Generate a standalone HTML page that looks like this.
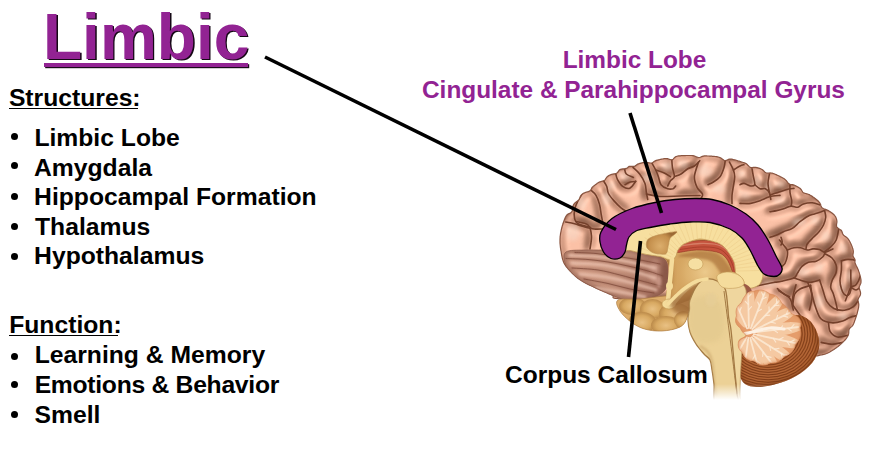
<!DOCTYPE html>
<html><head><meta charset="utf-8">
<style>
html,body{margin:0;padding:0;background:#fff;}
body{width:879px;height:449px;position:relative;overflow:hidden;font-family:"Liberation Sans",sans-serif;font-weight:bold;}
.t{position:absolute;white-space:nowrap;line-height:1;}
.l{font-size:24.7px;color:#000;}
.b{position:absolute;width:7px;height:7px;border-radius:50%;background:#000;}
.p{color:#922393;font-size:24.4px;}
#title{font-size:64px;color:#922393;text-shadow:1.4px 1.4px 0.3px #150815;}
#uline{position:absolute;left:43.5px;top:63.4px;width:204px;height:3.2px;background:#922393;box-shadow:1.2px 1.2px 0 #1a0a1a;}
.ul{position:absolute;height:2px;background:#000;}
</style></head><body>
<svg width="879" height="449" viewBox="0 0 879 449" style="position:absolute;left:0;top:0">
<defs>
<filter id="blur2" x="-20%" y="-20%" width="140%" height="140%"><feGaussianBlur stdDeviation="2"/></filter>
<filter id="blur1" x="-20%" y="-20%" width="140%" height="140%"><feGaussianBlur stdDeviation="1.2"/></filter>
<filter id="blur3" x="-30%" y="-30%" width="160%" height="160%"><feGaussianBlur stdDeviation="3"/></filter>
<filter id="blur06" x="-20%" y="-20%" width="140%" height="140%"><feGaussianBlur stdDeviation="0.6"/></filter>
<filter id="blur4" x="-30%" y="-30%" width="160%" height="160%"><feGaussianBlur stdDeviation="4"/></filter>
<linearGradient id="fade" x1="0" y1="0" x2="0" y2="1"><stop offset="0" stop-color="#fff" stop-opacity="0"/><stop offset="1" stop-color="#fff" stop-opacity="1"/></linearGradient>
<clipPath id="cpCortex"><path d="M622.0,299.0 L618.3,298.7 L615.7,298.4 L614.1,298.1 L613.3,297.7 L613.0,297.3 L613.0,296.9 L613.2,296.4 L613.2,296.0 L612.9,295.5 L612.0,295.0 L611.2,294.7 L610.3,294.3 L609.5,294.0 L608.6,293.6 L607.7,293.2 L606.8,292.8 L605.8,292.4 L604.9,292.0 L603.9,291.6 L603.0,291.2 L602.0,290.8 L601.0,290.4 L600.0,289.9 L599.0,289.5 L598.0,289.0 L597.1,288.6 L596.2,288.2 L595.2,287.7 L594.2,287.3 L593.3,286.8 L592.3,286.3 L591.3,285.8 L590.3,285.4 L589.3,284.9 L588.3,284.4 L587.3,283.9 L586.3,283.4 L585.4,282.9 L584.5,282.4 L583.6,282.0 L582.8,281.5 L582.0,281.0 L581.0,280.3 L580.0,279.7 L579.0,279.0 L578.1,278.4 L577.3,277.8 L576.5,277.1 L575.7,276.5 L575.0,275.8 L574.2,275.1 L573.5,274.4 L572.7,273.7 L572.0,273.0 L571.2,272.2 L570.5,271.5 L569.7,270.7 L569.0,269.9 L568.3,269.1 L567.6,268.2 L566.9,267.4 L566.2,266.6 L565.6,265.7 L565.0,264.8 L564.5,263.9 L564.0,263.0 L563.6,262.1 L563.2,261.1 L562.9,260.1 L562.6,259.1 L562.3,258.1 L562.1,257.1 L561.9,256.1 L561.7,255.1 L561.5,254.0 L561.3,253.0 L561.2,252.0 L561.0,251.0 L560.8,250.0 L560.7,249.0 L560.5,248.0 L560.4,247.0 L560.3,246.0 L560.2,245.0 L560.1,244.0 L560.0,243.0 L560.0,242.0 L560.0,241.0 L560.0,240.0 L560.0,239.0 L560.1,238.0 L560.1,237.0 L560.2,236.0 L560.4,235.0 L560.5,233.9 L560.7,232.9 L560.9,231.9 L561.1,230.9 L561.3,229.9 L561.5,228.9 L561.8,228.0 L562.0,227.0 L562.3,225.9 L562.6,224.9 L562.9,223.8 L563.3,222.7 L563.7,221.6 L564.1,220.5 L564.5,219.5 L564.9,218.5 L565.3,217.6 L565.7,216.8 L566.1,216.0 L566.9,215.0 L567.7,214.3 L568.6,213.8 L569.6,213.4 L570.8,212.7 L571.9,211.7 L572.2,210.9 L572.4,210.0 L572.5,209.0 L572.5,207.9 L572.7,206.8 L573.1,205.7 L573.6,204.6 L574.3,203.7 L575.2,202.8 L576.2,202.0 L577.2,201.2 L578.1,200.5 L578.8,199.8 L579.4,198.8 L579.8,197.8 L580.2,196.7 L580.7,195.8 L581.4,194.9 L582.2,194.2 L583.0,193.6 L583.9,193.1 L584.8,192.7 L585.7,192.4 L587.5,191.8 L588.4,191.6 L589.7,191.0 L590.3,190.5 L590.8,189.8 L591.3,189.0 L591.7,188.1 L592.4,187.2 L593.2,186.4 L594.1,185.7 L595.0,185.0 L595.7,184.4 L596.5,183.9 L597.2,183.3 L598.1,182.8 L598.9,182.3 L599.9,181.9 L601.1,181.5 L602.3,181.1 L603.5,180.7 L604.6,180.2 L605.2,179.6 L605.7,178.8 L606.2,178.0 L606.8,177.2 L607.6,176.4 L608.4,175.8 L609.4,175.2 L610.5,174.7 L611.7,174.3 L612.9,174.0 L614.2,173.8 L615.4,173.6 L616.4,173.3 L617.3,172.7 L618.0,172.0 L618.5,171.2 L619.1,170.4 L619.7,169.7 L620.5,169.3 L621.6,169.1 L622.7,168.9 L624.0,168.8 L625.2,168.7 L626.4,168.4 L627.1,168.0 L627.8,167.5 L628.4,166.9 L629.1,166.3 L630.2,166.3 L631.5,166.4 L632.7,166.4 L633.9,166.4 L634.9,166.1 L635.7,165.6 L636.4,165.0 L637.2,164.4 L638.1,163.9 L639.1,163.6 L640.0,163.3 L641.0,163.1 L642.0,162.9 L643.0,162.7 L644.1,162.6 L645.2,162.5 L646.4,162.5 L647.7,162.6 L649.0,162.8 L650.3,163.0 L651.4,163.0 L652.4,162.7 L653.1,162.3 L653.8,161.7 L654.5,161.3 L655.2,160.9 L656.3,160.4 L657.5,160.1 L658.6,159.8 L659.6,159.6 L660.6,159.3 L661.6,159.1 L662.5,159.0 L663.4,158.8 L664.2,158.7 L665.0,158.6 L666.3,158.5 L667.5,158.7 L668.6,159.0 L669.6,159.3 L670.7,159.6 L671.8,159.8 L672.6,159.6 L673.2,159.1 L673.8,158.4 L674.5,157.7 L675.5,156.8 L677.1,156.2 L677.7,156.0 L678.5,155.9 L679.3,155.8 L680.2,155.8 L681.1,155.7 L682.0,155.7 L683.0,155.6 L684.1,155.6 L685.1,155.6 L686.2,155.5 L687.3,155.5 L688.4,155.5 L689.5,155.5 L690.6,155.5 L691.8,155.5 L692.9,155.7 L694.0,155.9 L695.1,156.3 L696.2,156.7 L697.2,157.2 L698.3,157.5 L699.3,157.5 L700.3,157.2 L701.3,156.8 L702.3,156.4 L703.4,156.1 L704.4,155.9 L705.5,155.9 L706.6,155.9 L707.6,156.0 L708.7,156.0 L709.7,156.1 L710.7,156.1 L711.6,156.2 L712.5,156.3 L713.4,156.4 L714.2,156.4 L715.0,156.5 L716.4,156.7 L717.7,156.9 L718.9,157.2 L719.9,157.6 L720.8,158.1 L721.7,158.6 L722.5,159.3 L723.3,159.8 L724.0,160.3 L724.8,160.5 L725.9,160.4 L726.8,160.1 L727.6,159.8 L728.5,159.4 L729.5,159.1 L731.0,159.1 L731.8,159.2 L732.6,159.4 L733.6,159.7 L734.6,159.9 L735.7,160.2 L736.9,160.5 L738.0,160.9 L739.1,161.2 L740.3,161.5 L741.3,161.9 L742.4,162.2 L743.3,162.5 L744.2,162.8 L745.0,163.1 L746.4,163.8 L747.4,164.6 L748.1,165.5 L748.8,166.2 L749.5,166.9 L750.3,167.4 L751.3,167.6 L752.3,167.5 L753.3,167.4 L754.5,167.3 L755.6,167.4 L757.0,167.6 L757.8,167.8 L758.7,168.1 L759.6,168.4 L760.6,168.8 L761.5,169.2 L762.5,169.8 L763.3,170.5 L764.2,171.4 L765.0,172.2 L766.0,172.7 L766.9,173.0 L767.9,173.0 L769.0,173.0 L770.1,172.9 L771.2,173.0 L772.2,173.2 L773.2,173.5 L774.1,173.8 L775.1,174.2 L776.1,174.6 L777.0,175.1 L778.0,175.5 L779.0,176.0 L779.8,176.4 L780.7,176.9 L781.5,177.3 L782.4,177.8 L783.3,178.3 L784.2,178.8 L785.0,179.4 L785.8,180.1 L786.5,180.8 L787.1,181.7 L787.7,182.5 L788.3,183.3 L789.1,183.9 L790.1,184.3 L791.2,184.5 L792.3,184.7 L793.5,184.9 L794.6,185.3 L795.6,185.7 L796.5,186.2 L797.4,186.7 L798.3,187.2 L799.1,187.8 L799.9,188.3 L800.6,189.0 L801.2,189.7 L801.7,190.5 L802.2,191.3 L802.7,192.1 L803.4,192.7 L804.4,193.2 L805.6,193.5 L806.9,193.8 L808.1,194.2 L809.3,194.6 L810.3,195.2 L811.2,195.7 L812.1,196.3 L813.0,197.0 L813.9,197.6 L814.7,198.2 L815.5,198.8 L816.3,199.4 L817.0,200.0 L817.9,200.8 L818.6,201.5 L819.3,202.3 L819.9,203.1 L820.3,203.9 L820.7,204.8 L820.9,205.7 L821.2,206.6 L821.7,207.4 L822.5,208.1 L823.6,208.7 L824.8,209.1 L826.1,209.6 L827.2,210.1 L828.3,210.6 L829.3,211.2 L830.2,211.8 L831.2,212.5 L832.0,213.1 L832.9,213.8 L833.7,214.5 L834.4,215.2 L835.0,216.0 L835.6,216.9 L836.1,217.9 L836.4,218.9 L836.7,220.0 L836.9,221.1 L836.9,222.3 L836.7,223.5 L836.5,224.6 L836.5,225.7 L836.7,226.7 L837.2,227.5 L838.2,228.3 L839.2,229.0 L840.3,229.7 L841.2,230.3 L841.7,231.0 L842.0,231.8 L842.3,232.6 L842.5,233.5 L843.0,234.4 L843.7,235.2 L844.6,235.9 L845.7,236.7 L846.7,237.4 L847.6,238.3 L848.3,239.2 L848.9,240.1 L849.5,241.0 L850.0,242.0 L850.5,243.0 L851.0,244.0 L851.4,244.9 L851.8,245.9 L852.2,246.9 L852.5,247.9 L852.9,249.0 L853.1,250.0 L853.3,251.1 L853.3,252.1 L853.2,253.2 L853.0,254.2 L852.9,255.2 L853.0,256.1 L853.4,257.1 L854.1,258.1 L854.7,259.0 L855.1,260.0 L855.0,260.9 L854.9,261.8 L855.0,262.8 L855.3,263.8 L855.8,264.8 L856.4,266.0 L856.9,266.9 L857.3,267.8 L857.7,268.7 L858.1,269.6 L858.5,270.6 L858.8,271.6 L859.2,272.6 L859.5,273.7 L859.8,274.7 L860.1,275.7 L860.4,276.8 L860.6,277.9 L860.8,278.9 L861.0,280.0 L861.0,280.9 L861.0,281.9 L860.9,282.9 L860.6,283.8 L860.1,284.7 L859.7,285.7 L859.3,286.6 L859.2,287.7 L859.4,288.7 L859.7,289.8 L860.1,290.9 L860.4,292.0 L860.6,293.0 L860.5,294.1 L860.3,295.0 L859.9,295.9 L859.4,296.8 L858.8,297.8 L858.3,298.7 L858.0,299.8 L858.1,300.9 L858.3,302.0 L858.6,303.1 L858.8,304.3 L858.8,305.3 L858.7,306.3 L858.6,307.3 L858.4,308.2 L858.2,309.1 L858.0,310.0 L857.7,311.2 L857.4,312.3 L857.2,313.3 L856.9,314.3 L856.6,315.2 L856.3,316.2 L856.0,317.1 L855.7,318.1 L855.3,319.0 L855.0,320.0 L854.6,321.0 L854.3,322.0 L853.9,323.0 L853.5,324.0 L853.0,324.9 L852.4,325.8 L851.6,326.6 L850.7,327.4 L849.8,328.2 L849.2,329.1 L848.9,330.1 L848.8,331.1 L848.8,332.3 L848.7,333.4 L848.5,334.4 L848.1,335.4 L847.7,336.3 L847.1,337.3 L846.5,338.2 L845.8,339.1 L845.0,340.0 L844.4,340.7 L843.7,341.4 L843.0,342.1 L842.2,342.8 L841.4,343.5 L840.6,344.2 L839.8,345.0 L838.9,345.7 L838.1,346.4 L837.2,347.0 L836.4,347.7 L835.5,348.3 L834.6,348.9 L833.8,349.5 L833.0,350.0 L832.1,350.6 L831.1,351.1 L830.2,351.7 L829.3,352.2 L828.3,352.7 L827.4,353.1 L826.5,353.5 L825.5,353.9 L824.6,354.2 L823.7,354.5 L822.8,354.7 L821.9,354.9 L821.0,355.0 L820.0,355.1 L819.1,355.4 L818.2,355.6 L817.3,355.8 L816.4,355.9 L815.6,355.9 L814.6,355.7 L813.6,355.3 L812.5,354.5 L811.3,353.5 L810.0,352.0 L809.6,351.5 L809.2,351.0 L808.8,350.4 L808.4,349.7 L808.0,349.0 L807.6,348.3 L807.2,347.6 L806.8,346.8 L806.4,345.9 L806.0,345.1 L805.6,344.2 L805.2,343.3 L804.7,342.4 L804.3,341.4 L803.9,340.5 L803.4,339.5 L803.0,338.5 L802.5,337.5 L802.1,336.4 L801.6,335.4 L801.1,334.4 L800.6,333.4 L800.1,332.3 L799.6,331.3 L799.0,330.3 L798.5,329.3 L797.9,328.3 L797.4,327.3 L796.8,326.3 L796.2,325.4 L795.5,324.5 L794.9,323.5 L794.3,322.7 L793.6,321.8 L792.9,321.0 L792.2,320.2 L791.5,319.4 L790.8,318.7 L790.0,318.0 L789.3,317.4 L788.6,316.8 L787.8,316.2 L787.1,315.6 L786.3,315.1 L785.5,314.5 L784.7,314.0 L783.9,313.4 L783.1,312.9 L782.3,312.3 L781.4,311.8 L780.6,311.3 L779.7,310.8 L778.8,310.3 L777.9,309.8 L777.0,309.3 L776.1,308.9 L775.2,308.4 L774.2,308.0 L773.3,307.5 L772.4,307.1 L771.4,306.7 L770.4,306.2 L769.5,305.8 L768.5,305.4 L767.5,305.1 L766.5,304.7 L765.5,304.3 L764.5,304.0 L763.5,303.6 L762.4,303.3 L761.4,302.9 L760.4,302.6 L759.4,302.3 L758.3,302.0 L757.3,301.7 L756.3,301.4 L755.2,301.2 L754.2,300.9 L753.1,300.7 L752.1,300.4 L751.0,300.2 L750.0,300.0 L749.1,299.8 L748.2,299.7 L747.3,299.5 L746.4,299.4 L745.5,299.3 L744.6,299.2 L743.8,299.1 L742.9,299.0 L742.0,298.9 L741.1,298.9 L740.2,298.8 L739.3,298.8 L738.4,298.7 L737.5,298.7 L736.6,298.7 L735.7,298.7 L734.8,298.7 L733.9,298.7 L733.0,298.7 L732.1,298.8 L731.1,298.8 L730.2,298.8 L729.3,298.8 L728.3,298.9 L727.4,298.9 L726.4,299.0 L725.4,299.0 L724.5,299.1 L723.5,299.1 L722.5,299.2 L721.5,299.3 L720.5,299.3 L719.5,299.4 L718.4,299.4 L717.4,299.5 L716.3,299.6 L715.2,299.6 L714.2,299.7 L713.1,299.7 L712.0,299.8 L710.8,299.8 L709.7,299.9 L708.5,299.9 L707.4,299.9 L706.2,300.0 L705.0,300.0 L703.8,300.0 L702.5,300.0 L701.3,300.0 L700.0,300.0 L699.2,300.0 L698.3,300.0 L697.4,300.0 L696.6,300.0 L695.7,300.0 L694.7,300.0 L693.8,300.0 L692.8,300.0 L691.9,299.9 L690.9,299.9 L689.9,299.9 L688.9,299.9 L687.8,299.9 L686.8,299.9 L685.7,299.9 L684.7,299.9 L683.6,299.9 L682.5,299.9 L681.4,299.9 L680.3,299.9 L679.2,299.9 L678.1,299.9 L677.0,299.9 L675.8,299.9 L674.7,299.9 L673.6,299.9 L672.4,299.8 L671.3,299.8 L670.1,299.8 L668.9,299.8 L667.8,299.8 L666.6,299.8 L665.5,299.8 L664.3,299.8 L663.1,299.8 L662.0,299.8 L660.8,299.8 L659.7,299.8 L658.5,299.8 L657.3,299.7 L656.2,299.7 L655.1,299.7 L653.9,299.7 L652.8,299.7 L651.7,299.7 L650.5,299.7 L649.4,299.7 L648.3,299.6 L647.2,299.6 L646.1,299.6 L645.1,299.6 L644.0,299.6 L642.9,299.6 L641.9,299.6 L640.9,299.5 L639.9,299.5 L638.9,299.5 L637.9,299.5 L636.9,299.5 L635.9,299.5 L635.0,299.4 L634.1,299.4 L633.2,299.4 L632.3,299.4 L631.4,299.4 L630.5,299.3 L629.7,299.3 L628.9,299.3 L628.1,299.3 L627.3,299.2 L626.6,299.2 L625.8,299.2 L625.1,299.2 L624.5,299.1 L623.8,299.1 L623.2,299.1 L622.6,299.0 Z"/></clipPath>
</defs>
<filter id="light" x="540" y="140" width="340" height="230" filterUnits="userSpaceOnUse" color-interpolation-filters="sRGB">
 <feGaussianBlur in="SourceGraphic" stdDeviation="3.0" result="b"/>
 <feColorMatrix in="b" type="matrix" values="0 0 0 0 0  0 0 0 0 0  0 0 0 0 0  1 0 0 0 0" result="h"/>
 <feGaussianBlur in="SourceGraphic" stdDeviation="2.0" result="b2"/>
 <feColorMatrix in="b2" type="matrix" values="0.225 0 0 0 0.775  0.300 0 0 0 0.700  0.336 0 0 0 0.664  0 0 0 0 1" result="ao"/>
 <feDiffuseLighting in="h" surfaceScale="3.4" diffuseConstant="1.155" lighting-color="#ffffff" result="d"><feDistantLight azimuth="235" elevation="60"/></feDiffuseLighting>
 <feSpecularLighting in="h" surfaceScale="3.4" specularConstant="0.35" specularExponent="10" lighting-color="#fff" result="sp"><feDistantLight azimuth="235" elevation="60"/></feSpecularLighting>
 <feComponentTransfer in="d" result="d2"><feFuncR type="linear" slope="0.55" intercept="0.44999999999999996"/><feFuncG type="linear" slope="0.605" intercept="0.395"/><feFuncB type="linear" slope="0.660" intercept="0.340"/></feComponentTransfer>
 <feFlood flood-color="#d89e83" result="base"/>
 <feBlend in="d2" in2="base" mode="multiply" result="m"/>
 <feBlend in="ao" in2="m" mode="multiply" result="m2"/>
 <feComposite in="sp" in2="m2" operator="arithmetic" k1="0" k2="0.55" k3="1" k4="0"/>
</filter>
<g clip-path="url(#cpCortex)">
<g filter="url(#light)"><rect x="540" y="140" width="340" height="230" fill="#fff"/>
<path d="M565.7,222.0 C567.2,222.3 571.6,223.1 574.6,223.8 C577.6,224.6 580.2,225.6 583.5,226.5 C586.8,227.4 591.1,228.6 594.2,229.0 C597.3,229.4 600.9,229.0 602.2,229.0" fill="none" stroke="#000" stroke-width="4.5" stroke-linecap="round" stroke-linejoin="round"/>
<path d="M581.7,194.4 C581.1,195.4 579.2,198.1 578.0,200.6 C576.8,203.1 575.2,206.5 574.6,209.5 C574.0,212.5 574.0,216.1 574.6,218.5 C575.2,220.9 575.3,222.3 578.0,223.8 C580.7,225.3 588.5,226.8 590.6,227.4" fill="none" stroke="#000" stroke-width="4.5" stroke-linecap="round" stroke-linejoin="round"/>
<path d="M590.6,190.0 C591.5,190.9 594.5,192.9 596.0,195.3 C597.5,197.7 598.6,200.9 599.5,204.2 C600.4,207.5 600.7,211.6 601.3,214.9 C601.9,218.2 602.7,222.3 603.0,223.8" fill="none" stroke="#000" stroke-width="4.5" stroke-linecap="round" stroke-linejoin="round"/>
<path d="M603.0,180.0 C603.6,181.1 605.8,184.2 606.7,186.4 C607.6,188.7 607.3,191.1 608.5,193.5 C609.7,195.9 611.7,198.2 613.8,200.6 C615.9,203.0 618.9,206.0 621.0,207.8 C623.1,209.6 625.4,210.7 626.3,211.3" fill="none" stroke="#000" stroke-width="4.5" stroke-linecap="round" stroke-linejoin="round"/>
<path d="M615.6,173.0 C615.9,174.1 616.2,177.1 617.4,179.3 C618.6,181.5 620.6,184.9 622.7,186.4 C624.8,187.9 627.6,189.0 629.8,188.2 C632.0,187.4 634.7,182.5 635.7,181.4" fill="none" stroke="#000" stroke-width="4.5" stroke-linecap="round" stroke-linejoin="round"/>
<path d="M624.5,168.6 C624.8,169.5 624.8,172.5 626.3,174.0 C627.8,175.5 632.2,176.9 633.4,177.5" fill="none" stroke="#000" stroke-width="4.5" stroke-linecap="round" stroke-linejoin="round"/>
<path d="M576.0,221.5 C578.0,222.1 585.4,222.6 588.0,225.0 C590.6,227.4 591.2,232.0 591.5,236.0 C591.8,240.0 590.2,246.8 590.0,249.0" fill="none" stroke="#000" stroke-width="4.5" stroke-linecap="round" stroke-linejoin="round"/>
<path d="M633.0,167.4 C634.1,168.5 637.7,171.3 639.7,174.0 C641.7,176.7 643.9,180.3 645.0,183.4 C646.1,186.5 645.9,190.0 646.4,192.7 C646.9,195.4 647.5,198.3 647.7,199.4" fill="none" stroke="#000" stroke-width="4.5" stroke-linecap="round" stroke-linejoin="round"/>
<path d="M625.0,184.7 C625.9,184.2 628.5,182.6 630.3,182.0 C632.1,181.4 634.8,181.5 635.7,181.4" fill="none" stroke="#000" stroke-width="4.5" stroke-linecap="round" stroke-linejoin="round"/>
<path d="M650.4,160.7 C651.3,162.2 654.4,167.3 655.7,170.0 C657.0,172.7 657.5,174.2 658.4,176.7 C659.3,179.1 659.5,182.7 661.0,184.7 C662.5,186.7 665.7,188.0 667.7,188.7 C669.7,189.4 671.7,189.1 673.0,188.7 C674.3,188.2 675.2,186.4 675.7,186.0" fill="none" stroke="#000" stroke-width="4.5" stroke-linecap="round" stroke-linejoin="round"/>
<path d="M671.7,158.0 C671.8,159.6 672.0,164.3 672.4,167.4 C672.8,170.5 674.7,174.5 674.4,176.7 C674.1,178.9 671.5,179.1 670.4,180.7 C669.3,182.2 668.2,185.1 667.7,186.0" fill="none" stroke="#000" stroke-width="4.5" stroke-linecap="round" stroke-linejoin="round"/>
<path d="M674.4,176.7 C675.5,176.2 678.8,175.3 681.0,174.0 C683.2,172.7 685.6,170.0 687.8,168.7 C690.0,167.4 692.4,167.3 694.4,166.0 C696.4,164.7 698.9,161.6 699.8,160.7" fill="none" stroke="#000" stroke-width="4.5" stroke-linecap="round" stroke-linejoin="round"/>
<path d="M655.7,170.0 C657.0,170.4 661.2,171.6 663.7,172.7 C666.2,173.8 669.3,176.0 670.4,176.7" fill="none" stroke="#000" stroke-width="4.5" stroke-linecap="round" stroke-linejoin="round"/>
<path d="M698.5,162.0 C697.8,164.4 694.6,172.5 694.4,176.7 C694.2,180.9 695.8,184.5 697.1,187.4 C698.5,190.3 701.8,192.2 702.5,194.0 C703.2,195.8 701.5,197.3 701.3,198.0" fill="none" stroke="#000" stroke-width="4.5" stroke-linecap="round" stroke-linejoin="round"/>
<path d="M646.4,194.0 C648.7,194.4 654.4,196.2 660.0,196.5 C665.6,196.8 673.3,196.2 680.0,196.0 C686.7,195.8 696.7,195.6 700.0,195.5" fill="none" stroke="#000" stroke-width="4.5" stroke-linecap="round" stroke-linejoin="round"/>
<path d="M725.4,159.3 C725.2,160.7 724.9,164.5 724.0,167.4 C723.1,170.3 721.8,174.3 720.0,176.7 C718.2,179.1 715.4,180.7 713.4,182.0 C711.4,183.3 708.9,184.2 708.0,184.7" fill="none" stroke="#000" stroke-width="4.5" stroke-linecap="round" stroke-linejoin="round"/>
<path d="M729.4,162.0 C730.1,163.3 732.5,167.6 733.4,170.0 C734.3,172.4 734.7,174.0 734.7,176.7 C734.7,179.4 733.9,182.9 733.4,186.0 C732.9,189.1 732.2,192.5 732.0,195.4 C731.8,198.3 732.0,202.1 732.0,203.4" fill="none" stroke="#000" stroke-width="4.5" stroke-linecap="round" stroke-linejoin="round"/>
<path d="M733.4,170.0 C734.5,169.3 738.2,166.9 740.0,166.0 C741.8,165.1 743.3,164.9 744.0,164.7" fill="none" stroke="#000" stroke-width="4.5" stroke-linecap="round" stroke-linejoin="round"/>
<path d="M752.0,168.7 C752.2,170.0 752.9,174.0 753.4,176.7 C753.9,179.4 755.2,183.1 754.7,184.7 C754.2,186.2 752.5,186.2 750.7,186.0 C748.9,185.8 745.8,183.6 744.0,183.4 C742.2,183.2 740.7,184.5 740.0,184.7" fill="none" stroke="#000" stroke-width="4.5" stroke-linecap="round" stroke-linejoin="round"/>
<path d="M754.7,184.7 C755.6,185.4 758.2,188.0 760.0,188.7 C761.8,189.4 763.8,188.0 765.4,188.7 C767.0,189.4 768.5,190.9 769.4,192.7 C770.3,194.5 770.6,198.3 770.8,199.4" fill="none" stroke="#000" stroke-width="4.5" stroke-linecap="round" stroke-linejoin="round"/>
<path d="M769.4,174.0 C769.2,175.6 768.0,180.3 768.0,183.4 C768.0,186.5 769.2,191.1 769.4,192.7" fill="none" stroke="#000" stroke-width="4.5" stroke-linecap="round" stroke-linejoin="round"/>
<path d="M740.0,203.4 C741.8,203.4 747.4,203.9 750.7,203.4 C754.0,202.9 756.9,201.8 760.0,200.7 C763.1,199.6 766.1,197.6 769.4,196.7 C772.7,195.8 778.2,195.6 780.0,195.4" fill="none" stroke="#000" stroke-width="4.5" stroke-linecap="round" stroke-linejoin="round"/>
<path d="M770.0,195.0 C771.3,194.6 775.3,193.3 778.0,192.4 C780.7,191.5 783.3,190.4 786.0,189.7 C788.7,189.0 792.7,188.6 794.0,188.4" fill="none" stroke="#000" stroke-width="4.5" stroke-linecap="round" stroke-linejoin="round"/>
<path d="M790.0,183.0 C790.0,184.6 789.7,189.5 790.0,192.4 C790.3,195.3 791.5,198.3 791.7,200.6 C791.9,202.9 791.3,205.2 791.2,206.1" fill="none" stroke="#000" stroke-width="4.5" stroke-linecap="round" stroke-linejoin="round"/>
<path d="M770.0,211.7 C771.1,211.5 774.3,211.1 776.7,210.6 C779.1,210.1 782.1,209.2 784.5,208.4 C786.9,207.7 789.0,206.3 791.2,206.1 C793.4,205.9 795.8,207.6 797.8,207.2 C799.8,206.8 801.0,204.6 803.4,203.9 C805.8,203.2 809.5,202.6 812.3,202.8 C815.1,203.0 818.7,204.6 820.0,205.0" fill="none" stroke="#000" stroke-width="4.5" stroke-linecap="round" stroke-linejoin="round"/>
<path d="M770.0,237.3 C771.1,236.9 774.5,236.0 776.7,235.1 C778.9,234.2 780.8,232.8 783.4,231.7 C786.0,230.6 789.5,230.1 792.3,228.4 C795.1,226.7 797.4,223.7 800.0,221.7 C802.6,219.7 805.5,217.5 807.9,216.2 C810.3,214.9 812.3,214.7 814.5,213.9 C816.7,213.2 819.5,212.2 821.2,211.7 C822.9,211.1 824.0,210.8 824.6,210.6" fill="none" stroke="#000" stroke-width="4.5" stroke-linecap="round" stroke-linejoin="round"/>
<path d="M824.6,210.6 C824.8,211.7 825.9,214.9 825.7,217.3 C825.5,219.7 824.6,222.6 823.5,225.0 C822.4,227.4 820.7,229.6 819.0,231.7 C817.3,233.8 815.1,235.6 813.4,237.3 C811.7,239.0 810.1,240.5 809.0,241.8 C807.9,243.1 807.2,243.8 806.7,245.0 C806.2,246.2 806.1,248.3 806.0,249.0" fill="none" stroke="#000" stroke-width="4.5" stroke-linecap="round" stroke-linejoin="round"/>
<path d="M781.0,237.3 C781.2,238.1 782.2,240.5 782.2,241.8 C782.2,243.1 781.2,244.5 781.0,245.0" fill="none" stroke="#000" stroke-width="4.5" stroke-linecap="round" stroke-linejoin="round"/>
<path d="M779.5,240.0 C780.2,240.9 782.6,243.9 783.9,245.6 C785.2,247.3 786.7,248.2 787.2,250.0 C787.8,251.8 787.6,254.5 787.2,256.7 C786.8,258.9 785.9,261.7 785.0,263.4 C784.1,265.1 782.2,266.1 781.7,266.7" fill="none" stroke="#000" stroke-width="4.5" stroke-linecap="round" stroke-linejoin="round"/>
<path d="M787.2,250.0 C788.3,249.6 791.7,248.2 793.9,247.8 C796.1,247.4 798.4,247.4 800.6,247.8 C802.8,248.2 805.2,249.8 807.3,250.0 C809.3,250.2 810.9,249.0 812.9,248.9 C814.9,248.8 817.5,248.9 819.5,249.5 C821.5,250.1 822.9,252.3 825.1,252.2 C827.3,252.1 831.6,249.4 832.9,248.9" fill="none" stroke="#000" stroke-width="4.5" stroke-linecap="round" stroke-linejoin="round"/>
<path d="M839.2,226.0 C838.7,228.3 837.7,236.4 836.2,240.0 C834.7,243.6 832.2,245.4 830.2,247.4 C828.2,249.4 825.3,251.2 824.3,251.9" fill="none" stroke="#000" stroke-width="4.5" stroke-linecap="round" stroke-linejoin="round"/>
<path d="M825.4,254.0 C826.5,254.7 830.2,256.2 832.0,258.0 C833.8,259.8 835.3,262.2 836.0,264.7 C836.7,267.1 836.7,270.0 836.0,272.7 C835.3,275.4 832.9,278.2 832.0,280.7 C831.1,283.1 830.5,285.2 830.7,287.4 C830.9,289.6 832.5,291.3 833.4,294.0 C834.3,296.7 835.3,300.7 836.0,303.4 C836.7,306.1 837.2,308.9 837.4,310.0" fill="none" stroke="#000" stroke-width="4.5" stroke-linecap="round" stroke-linejoin="round"/>
<path d="M825.1,252.2 C824.7,252.9 824.4,255.2 822.9,256.7 C821.4,258.2 818.6,260.3 816.2,261.2 C813.8,262.1 810.8,261.4 808.4,262.3 C806.0,263.2 803.6,264.9 801.7,266.7 C799.9,268.5 798.6,271.5 797.3,273.4 C796.0,275.3 796.5,276.6 793.9,277.9 C791.3,279.2 784.9,280.5 781.7,281.2 C778.6,281.9 776.1,282.1 775.0,282.3" fill="none" stroke="#000" stroke-width="4.5" stroke-linecap="round" stroke-linejoin="round"/>
<path d="M793.9,277.9 C795.6,278.4 801.2,280.5 804.0,281.2 C806.8,281.9 808.0,282.5 810.6,282.3 C813.2,282.1 818.1,280.4 819.6,280.0" fill="none" stroke="#000" stroke-width="4.5" stroke-linecap="round" stroke-linejoin="round"/>
<path d="M841.4,260.7 C842.5,260.5 845.6,259.4 848.0,259.4 C850.4,259.4 854.0,259.6 856.0,260.7 C858.0,261.8 859.3,263.3 860.0,266.0 C860.7,268.7 860.7,273.6 860.0,276.7 C859.3,279.8 857.5,282.9 856.0,284.7 C854.5,286.5 852.1,285.8 850.8,287.4 C849.5,288.9 848.9,291.8 848.0,294.0 C847.1,296.2 845.8,299.7 845.4,300.8" fill="none" stroke="#000" stroke-width="4.5" stroke-linecap="round" stroke-linejoin="round"/>
<path d="M841.4,260.7 C841.4,262.2 841.6,266.7 841.4,270.0 C841.2,273.3 840.0,277.6 840.0,280.7 C840.0,283.8 840.7,286.5 841.4,288.7 C842.1,290.9 842.9,292.9 844.0,294.0 C845.1,295.1 846.9,296.1 848.0,295.4 C849.1,294.7 850.3,293.1 850.8,290.0 C851.3,286.9 850.8,280.0 850.8,276.7 C850.8,273.4 850.8,271.1 850.8,270.0" fill="none" stroke="#000" stroke-width="4.5" stroke-linecap="round" stroke-linejoin="round"/>
<path d="M850.8,287.4 C851.7,287.8 854.5,290.0 856.0,290.0 C857.5,290.0 859.3,287.8 860.0,287.4" fill="none" stroke="#000" stroke-width="4.5" stroke-linecap="round" stroke-linejoin="round"/>
<path d="M778.6,290.7 C780.4,291.9 786.9,295.4 789.3,297.8 C791.7,300.2 790.7,301.7 792.8,305.0 C794.9,308.3 800.2,315.3 801.7,317.4" fill="none" stroke="#000" stroke-width="4.5" stroke-linecap="round" stroke-linejoin="round"/>
<path d="M792.8,305.0 C793.1,303.2 793.4,297.0 794.6,294.3 C795.8,291.6 797.3,290.5 800.0,289.0 C802.7,287.5 808.8,285.9 810.6,285.3" fill="none" stroke="#000" stroke-width="4.5" stroke-linecap="round" stroke-linejoin="round"/>
<path d="M810.6,285.3 C810.9,287.1 811.5,292.1 812.4,296.0 C813.3,299.9 814.5,304.6 816.0,308.5 C817.5,312.4 818.6,316.8 821.3,319.2 C824.0,321.6 828.4,322.5 832.0,322.8 C835.6,323.1 839.7,321.9 842.7,321.0 C845.7,320.1 847.4,318.3 849.8,317.4 C852.2,316.5 855.8,315.9 857.0,315.6" fill="none" stroke="#000" stroke-width="4.5" stroke-linecap="round" stroke-linejoin="round"/>
<path d="M819.6,280.0 C820.2,281.8 821.9,287.1 823.1,290.7 C824.3,294.3 824.9,298.4 826.7,301.4 C828.5,304.4 830.8,307.0 833.8,308.5 C836.8,310.0 841.2,310.6 844.5,310.3 C847.8,310.0 851.0,308.5 853.4,306.7 C855.8,304.9 857.9,300.8 858.8,299.6" fill="none" stroke="#000" stroke-width="4.5" stroke-linecap="round" stroke-linejoin="round"/>
<path d="M828.5,322.8 C828.8,324.3 828.7,329.3 830.2,331.7 C831.7,334.1 834.4,336.4 837.4,337.0 C840.4,337.6 846.2,335.6 848.0,335.3" fill="none" stroke="#000" stroke-width="4.5" stroke-linecap="round" stroke-linejoin="round"/>
<path d="M821.3,342.4 C823.1,342.7 828.4,344.2 832.0,344.2 C835.6,344.2 840.9,342.7 842.7,342.4" fill="none" stroke="#000" stroke-width="4.5" stroke-linecap="round" stroke-linejoin="round"/>
<path d="M755.0,286.0 C756.3,285.8 759.4,285.3 762.7,284.7 C766.0,284.1 773.0,282.7 775.0,282.3" fill="none" stroke="#000" stroke-width="4.5" stroke-linecap="round" stroke-linejoin="round"/>
<path d="M796.0,284.7 C795.6,286.2 794.1,290.9 793.4,294.0 C792.7,297.1 792.0,300.7 792.0,303.4 C792.0,306.1 793.2,308.9 793.4,310.0" fill="none" stroke="#000" stroke-width="4.5" stroke-linecap="round" stroke-linejoin="round"/>
<path d="M777.4,288.7 C778.5,289.6 782.0,292.7 784.0,294.0 C786.0,295.3 788.5,296.2 789.4,296.7" fill="none" stroke="#000" stroke-width="4.5" stroke-linecap="round" stroke-linejoin="round"/>
<path d="M808.0,283.4 C808.5,284.5 810.1,287.6 810.8,290.0 C811.5,292.4 812.2,294.7 812.0,298.0 C811.8,301.3 809.8,308.0 809.4,310.0" fill="none" stroke="#000" stroke-width="4.5" stroke-linecap="round" stroke-linejoin="round"/>
<path d="M622.0,299.0 L618.3,298.7 L615.7,298.4 L614.1,298.1 L613.3,297.7 L613.0,297.3 L613.0,296.9 L613.2,296.4 L613.2,296.0 L612.9,295.5 L612.0,295.0 L611.2,294.7 L610.3,294.3 L609.5,294.0 L608.6,293.6 L607.7,293.2 L606.8,292.8 L605.8,292.4 L604.9,292.0 L603.9,291.6 L603.0,291.2 L602.0,290.8 L601.0,290.4 L600.0,289.9 L599.0,289.5 L598.0,289.0 L597.1,288.6 L596.2,288.2 L595.2,287.7 L594.2,287.3 L593.3,286.8 L592.3,286.3 L591.3,285.8 L590.3,285.4 L589.3,284.9 L588.3,284.4 L587.3,283.9 L586.3,283.4 L585.4,282.9 L584.5,282.4 L583.6,282.0 L582.8,281.5 L582.0,281.0 L581.0,280.3 L580.0,279.7 L579.0,279.0 L578.1,278.4 L577.3,277.8 L576.5,277.1 L575.7,276.5 L575.0,275.8 L574.2,275.1 L573.5,274.4 L572.7,273.7 L572.0,273.0 L571.2,272.2 L570.5,271.5 L569.7,270.7 L569.0,269.9 L568.3,269.1 L567.6,268.2 L566.9,267.4 L566.2,266.6 L565.6,265.7 L565.0,264.8 L564.5,263.9 L564.0,263.0 L563.6,262.1 L563.2,261.1 L562.9,260.1 L562.6,259.1 L562.3,258.1 L562.1,257.1 L561.9,256.1 L561.7,255.1 L561.5,254.0 L561.3,253.0 L561.2,252.0 L561.0,251.0 L560.8,250.0 L560.7,249.0 L560.5,248.0 L560.4,247.0 L560.3,246.0 L560.2,245.0 L560.1,244.0 L560.0,243.0 L560.0,242.0 L560.0,241.0 L560.0,240.0 L560.0,239.0 L560.1,238.0 L560.1,237.0 L560.2,236.0 L560.4,235.0 L560.5,233.9 L560.7,232.9 L560.9,231.9 L561.1,230.9 L561.3,229.9 L561.5,228.9 L561.8,228.0 L562.0,227.0 L562.3,225.9 L562.6,224.9 L562.9,223.8 L563.3,222.7 L563.7,221.6 L564.1,220.5 L564.5,219.5 L564.9,218.5 L565.3,217.6 L565.7,216.8 L566.1,216.0 L566.9,215.0 L567.7,214.3 L568.6,213.8 L569.6,213.4 L570.8,212.7 L571.9,211.7 L572.2,210.9 L572.4,210.0 L572.5,209.0 L572.5,207.9 L572.7,206.8 L573.1,205.7 L573.6,204.6 L574.3,203.7 L575.2,202.8 L576.2,202.0 L577.2,201.2 L578.1,200.5 L578.8,199.8 L579.4,198.8 L579.8,197.8 L580.2,196.7 L580.7,195.8 L581.4,194.9 L582.2,194.2 L583.0,193.6 L583.9,193.1 L584.8,192.7 L585.7,192.4 L587.5,191.8 L588.4,191.6 L589.7,191.0 L590.3,190.5 L590.8,189.8 L591.3,189.0 L591.7,188.1 L592.4,187.2 L593.2,186.4 L594.1,185.7 L595.0,185.0 L595.7,184.4 L596.5,183.9 L597.2,183.3 L598.1,182.8 L598.9,182.3 L599.9,181.9 L601.1,181.5 L602.3,181.1 L603.5,180.7 L604.6,180.2 L605.2,179.6 L605.7,178.8 L606.2,178.0 L606.8,177.2 L607.6,176.4 L608.4,175.8 L609.4,175.2 L610.5,174.7 L611.7,174.3 L612.9,174.0 L614.2,173.8 L615.4,173.6 L616.4,173.3 L617.3,172.7 L618.0,172.0 L618.5,171.2 L619.1,170.4 L619.7,169.7 L620.5,169.3 L621.6,169.1 L622.7,168.9 L624.0,168.8 L625.2,168.7 L626.4,168.4 L627.1,168.0 L627.8,167.5 L628.4,166.9 L629.1,166.3 L630.2,166.3 L631.5,166.4 L632.7,166.4 L633.9,166.4 L634.9,166.1 L635.7,165.6 L636.4,165.0 L637.2,164.4 L638.1,163.9 L639.1,163.6 L640.0,163.3 L641.0,163.1 L642.0,162.9 L643.0,162.7 L644.1,162.6 L645.2,162.5 L646.4,162.5 L647.7,162.6 L649.0,162.8 L650.3,163.0 L651.4,163.0 L652.4,162.7 L653.1,162.3 L653.8,161.7 L654.5,161.3 L655.2,160.9 L656.3,160.4 L657.5,160.1 L658.6,159.8 L659.6,159.6 L660.6,159.3 L661.6,159.1 L662.5,159.0 L663.4,158.8 L664.2,158.7 L665.0,158.6 L666.3,158.5 L667.5,158.7 L668.6,159.0 L669.6,159.3 L670.7,159.6 L671.8,159.8 L672.6,159.6 L673.2,159.1 L673.8,158.4 L674.5,157.7 L675.5,156.8 L677.1,156.2 L677.7,156.0 L678.5,155.9 L679.3,155.8 L680.2,155.8 L681.1,155.7 L682.0,155.7 L683.0,155.6 L684.1,155.6 L685.1,155.6 L686.2,155.5 L687.3,155.5 L688.4,155.5 L689.5,155.5 L690.6,155.5 L691.8,155.5 L692.9,155.7 L694.0,155.9 L695.1,156.3 L696.2,156.7 L697.2,157.2 L698.3,157.5 L699.3,157.5 L700.3,157.2 L701.3,156.8 L702.3,156.4 L703.4,156.1 L704.4,155.9 L705.5,155.9 L706.6,155.9 L707.6,156.0 L708.7,156.0 L709.7,156.1 L710.7,156.1 L711.6,156.2 L712.5,156.3 L713.4,156.4 L714.2,156.4 L715.0,156.5 L716.4,156.7 L717.7,156.9 L718.9,157.2 L719.9,157.6 L720.8,158.1 L721.7,158.6 L722.5,159.3 L723.3,159.8 L724.0,160.3 L724.8,160.5 L725.9,160.4 L726.8,160.1 L727.6,159.8 L728.5,159.4 L729.5,159.1 L731.0,159.1 L731.8,159.2 L732.6,159.4 L733.6,159.7 L734.6,159.9 L735.7,160.2 L736.9,160.5 L738.0,160.9 L739.1,161.2 L740.3,161.5 L741.3,161.9 L742.4,162.2 L743.3,162.5 L744.2,162.8 L745.0,163.1 L746.4,163.8 L747.4,164.6 L748.1,165.5 L748.8,166.2 L749.5,166.9 L750.3,167.4 L751.3,167.6 L752.3,167.5 L753.3,167.4 L754.5,167.3 L755.6,167.4 L757.0,167.6 L757.8,167.8 L758.7,168.1 L759.6,168.4 L760.6,168.8 L761.5,169.2 L762.5,169.8 L763.3,170.5 L764.2,171.4 L765.0,172.2 L766.0,172.7 L766.9,173.0 L767.9,173.0 L769.0,173.0 L770.1,172.9 L771.2,173.0 L772.2,173.2 L773.2,173.5 L774.1,173.8 L775.1,174.2 L776.1,174.6 L777.0,175.1 L778.0,175.5 L779.0,176.0 L779.8,176.4 L780.7,176.9 L781.5,177.3 L782.4,177.8 L783.3,178.3 L784.2,178.8 L785.0,179.4 L785.8,180.1 L786.5,180.8 L787.1,181.7 L787.7,182.5 L788.3,183.3 L789.1,183.9 L790.1,184.3 L791.2,184.5 L792.3,184.7 L793.5,184.9 L794.6,185.3 L795.6,185.7 L796.5,186.2 L797.4,186.7 L798.3,187.2 L799.1,187.8 L799.9,188.3 L800.6,189.0 L801.2,189.7 L801.7,190.5 L802.2,191.3 L802.7,192.1 L803.4,192.7 L804.4,193.2 L805.6,193.5 L806.9,193.8 L808.1,194.2 L809.3,194.6 L810.3,195.2 L811.2,195.7 L812.1,196.3 L813.0,197.0 L813.9,197.6 L814.7,198.2 L815.5,198.8 L816.3,199.4 L817.0,200.0 L817.9,200.8 L818.6,201.5 L819.3,202.3 L819.9,203.1 L820.3,203.9 L820.7,204.8 L820.9,205.7 L821.2,206.6 L821.7,207.4 L822.5,208.1 L823.6,208.7 L824.8,209.1 L826.1,209.6 L827.2,210.1 L828.3,210.6 L829.3,211.2 L830.2,211.8 L831.2,212.5 L832.0,213.1 L832.9,213.8 L833.7,214.5 L834.4,215.2 L835.0,216.0 L835.6,216.9 L836.1,217.9 L836.4,218.9 L836.7,220.0 L836.9,221.1 L836.9,222.3 L836.7,223.5 L836.5,224.6 L836.5,225.7 L836.7,226.7 L837.2,227.5 L838.2,228.3 L839.2,229.0 L840.3,229.7 L841.2,230.3 L841.7,231.0 L842.0,231.8 L842.3,232.6 L842.5,233.5 L843.0,234.4 L843.7,235.2 L844.6,235.9 L845.7,236.7 L846.7,237.4 L847.6,238.3 L848.3,239.2 L848.9,240.1 L849.5,241.0 L850.0,242.0 L850.5,243.0 L851.0,244.0 L851.4,244.9 L851.8,245.9 L852.2,246.9 L852.5,247.9 L852.9,249.0 L853.1,250.0 L853.3,251.1 L853.3,252.1 L853.2,253.2 L853.0,254.2 L852.9,255.2 L853.0,256.1 L853.4,257.1 L854.1,258.1 L854.7,259.0 L855.1,260.0 L855.0,260.9 L854.9,261.8 L855.0,262.8 L855.3,263.8 L855.8,264.8 L856.4,266.0 L856.9,266.9 L857.3,267.8 L857.7,268.7 L858.1,269.6 L858.5,270.6 L858.8,271.6 L859.2,272.6 L859.5,273.7 L859.8,274.7 L860.1,275.7 L860.4,276.8 L860.6,277.9 L860.8,278.9 L861.0,280.0 L861.0,280.9 L861.0,281.9 L860.9,282.9 L860.6,283.8 L860.1,284.7 L859.7,285.7 L859.3,286.6 L859.2,287.7 L859.4,288.7 L859.7,289.8 L860.1,290.9 L860.4,292.0 L860.6,293.0 L860.5,294.1 L860.3,295.0 L859.9,295.9 L859.4,296.8 L858.8,297.8 L858.3,298.7 L858.0,299.8 L858.1,300.9 L858.3,302.0 L858.6,303.1 L858.8,304.3 L858.8,305.3 L858.7,306.3 L858.6,307.3 L858.4,308.2 L858.2,309.1 L858.0,310.0 L857.7,311.2 L857.4,312.3 L857.2,313.3 L856.9,314.3 L856.6,315.2 L856.3,316.2 L856.0,317.1 L855.7,318.1 L855.3,319.0 L855.0,320.0 L854.6,321.0 L854.3,322.0 L853.9,323.0 L853.5,324.0 L853.0,324.9 L852.4,325.8 L851.6,326.6 L850.7,327.4 L849.8,328.2 L849.2,329.1 L848.9,330.1 L848.8,331.1 L848.8,332.3 L848.7,333.4 L848.5,334.4 L848.1,335.4 L847.7,336.3 L847.1,337.3 L846.5,338.2 L845.8,339.1 L845.0,340.0 L844.4,340.7 L843.7,341.4 L843.0,342.1 L842.2,342.8 L841.4,343.5 L840.6,344.2 L839.8,345.0 L838.9,345.7 L838.1,346.4 L837.2,347.0 L836.4,347.7 L835.5,348.3 L834.6,348.9 L833.8,349.5 L833.0,350.0 L832.1,350.6 L831.1,351.1 L830.2,351.7 L829.3,352.2 L828.3,352.7 L827.4,353.1 L826.5,353.5 L825.5,353.9 L824.6,354.2 L823.7,354.5 L822.8,354.7 L821.9,354.9 L821.0,355.0 L820.0,355.1 L819.1,355.4 L818.2,355.6 L817.3,355.8 L816.4,355.9 L815.6,355.9 L814.6,355.7 L813.6,355.3 L812.5,354.5 L811.3,353.5 L810.0,352.0 L809.6,351.5 L809.2,351.0 L808.8,350.4 L808.4,349.7 L808.0,349.0 L807.6,348.3 L807.2,347.6 L806.8,346.8 L806.4,345.9 L806.0,345.1 L805.6,344.2 L805.2,343.3 L804.7,342.4 L804.3,341.4 L803.9,340.5 L803.4,339.5 L803.0,338.5 L802.5,337.5 L802.1,336.4 L801.6,335.4 L801.1,334.4 L800.6,333.4 L800.1,332.3 L799.6,331.3 L799.0,330.3 L798.5,329.3 L797.9,328.3 L797.4,327.3 L796.8,326.3 L796.2,325.4 L795.5,324.5 L794.9,323.5 L794.3,322.7 L793.6,321.8 L792.9,321.0 L792.2,320.2 L791.5,319.4 L790.8,318.7 L790.0,318.0 L789.3,317.4 L788.6,316.8 L787.8,316.2 L787.1,315.6 L786.3,315.1 L785.5,314.5 L784.7,314.0 L783.9,313.4 L783.1,312.9 L782.3,312.3 L781.4,311.8 L780.6,311.3 L779.7,310.8 L778.8,310.3 L777.9,309.8 L777.0,309.3 L776.1,308.9 L775.2,308.4 L774.2,308.0 L773.3,307.5 L772.4,307.1 L771.4,306.7 L770.4,306.2 L769.5,305.8 L768.5,305.4 L767.5,305.1 L766.5,304.7 L765.5,304.3 L764.5,304.0 L763.5,303.6 L762.4,303.3 L761.4,302.9 L760.4,302.6 L759.4,302.3 L758.3,302.0 L757.3,301.7 L756.3,301.4 L755.2,301.2 L754.2,300.9 L753.1,300.7 L752.1,300.4 L751.0,300.2 L750.0,300.0 L749.1,299.8 L748.2,299.7 L747.3,299.5 L746.4,299.4 L745.5,299.3 L744.6,299.2 L743.8,299.1 L742.9,299.0 L742.0,298.9 L741.1,298.9 L740.2,298.8 L739.3,298.8 L738.4,298.7 L737.5,298.7 L736.6,298.7 L735.7,298.7 L734.8,298.7 L733.9,298.7 L733.0,298.7 L732.1,298.8 L731.1,298.8 L730.2,298.8 L729.3,298.8 L728.3,298.9 L727.4,298.9 L726.4,299.0 L725.4,299.0 L724.5,299.1 L723.5,299.1 L722.5,299.2 L721.5,299.3 L720.5,299.3 L719.5,299.4 L718.4,299.4 L717.4,299.5 L716.3,299.6 L715.2,299.6 L714.2,299.7 L713.1,299.7 L712.0,299.8 L710.8,299.8 L709.7,299.9 L708.5,299.9 L707.4,299.9 L706.2,300.0 L705.0,300.0 L703.8,300.0 L702.5,300.0 L701.3,300.0 L700.0,300.0 L699.2,300.0 L698.3,300.0 L697.4,300.0 L696.6,300.0 L695.7,300.0 L694.7,300.0 L693.8,300.0 L692.8,300.0 L691.9,299.9 L690.9,299.9 L689.9,299.9 L688.9,299.9 L687.8,299.9 L686.8,299.9 L685.7,299.9 L684.7,299.9 L683.6,299.9 L682.5,299.9 L681.4,299.9 L680.3,299.9 L679.2,299.9 L678.1,299.9 L677.0,299.9 L675.8,299.9 L674.7,299.9 L673.6,299.9 L672.4,299.8 L671.3,299.8 L670.1,299.8 L668.9,299.8 L667.8,299.8 L666.6,299.8 L665.5,299.8 L664.3,299.8 L663.1,299.8 L662.0,299.8 L660.8,299.8 L659.7,299.8 L658.5,299.8 L657.3,299.7 L656.2,299.7 L655.1,299.7 L653.9,299.7 L652.8,299.7 L651.7,299.7 L650.5,299.7 L649.4,299.7 L648.3,299.6 L647.2,299.6 L646.1,299.6 L645.1,299.6 L644.0,299.6 L642.9,299.6 L641.9,299.6 L640.9,299.5 L639.9,299.5 L638.9,299.5 L637.9,299.5 L636.9,299.5 L635.9,299.5 L635.0,299.4 L634.1,299.4 L633.2,299.4 L632.3,299.4 L631.4,299.4 L630.5,299.3 L629.7,299.3 L628.9,299.3 L628.1,299.3 L627.3,299.2 L626.6,299.2 L625.8,299.2 L625.1,299.2 L624.5,299.1 L623.8,299.1 L623.2,299.1 L622.6,299.0 Z" fill="none" stroke="#000" stroke-width="5" />
</g>
<ellipse cx="581" cy="204" rx="5" ry="7" fill="#f7dccb" opacity="0.55" filter="url(#blur2)"/>
<ellipse cx="607" cy="198" rx="4" ry="7" fill="#f7dccb" opacity="0.55" filter="url(#blur2)"/>
<ellipse cx="625" cy="176" rx="6" ry="4" fill="#f7dccb" opacity="0.55" filter="url(#blur2)"/>
<ellipse cx="611" cy="186" rx="4" ry="4" fill="#f7dccb" opacity="0.55" filter="url(#blur2)"/>
<ellipse cx="647" cy="178" rx="5" ry="4" fill="#f7dccb" opacity="0.55" filter="url(#blur2)"/>
<ellipse cx="667" cy="166" rx="6" ry="4" fill="#f7dccb" opacity="0.55" filter="url(#blur2)"/>
<ellipse cx="573" cy="232" rx="7" ry="9" fill="#f7dccb" opacity="0.55" filter="url(#blur2)"/>
<ellipse cx="705" cy="171" rx="7" ry="6" fill="#f7dccb" opacity="0.55" filter="url(#blur2)"/>
<ellipse cx="719" cy="189" rx="6" ry="4" fill="#f7dccb" opacity="0.55" filter="url(#blur2)"/>
<ellipse cx="745" cy="195" rx="6" ry="3" fill="#f7dccb" opacity="0.55" filter="url(#blur2)"/>
<ellipse cx="757" cy="181" rx="3" ry="5" fill="#f7dccb" opacity="0.55" filter="url(#blur2)"/>
<ellipse cx="769" cy="187" rx="3" ry="4" fill="#f7dccb" opacity="0.55" filter="url(#blur2)"/>
<ellipse cx="683" cy="164" rx="5" ry="4" fill="#f7dccb" opacity="0.55" filter="url(#blur2)"/>
<ellipse cx="741" cy="174" rx="4" ry="4" fill="#f7dccb" opacity="0.55" filter="url(#blur2)"/>
<ellipse cx="779" cy="200" rx="6" ry="3" fill="#f7dccb" opacity="0.55" filter="url(#blur2)"/>
<ellipse cx="799" cy="222" rx="7" ry="4" fill="#f7dccb" opacity="0.55" filter="url(#blur2)"/>
<ellipse cx="815" cy="220" rx="4" ry="4" fill="#f7dccb" opacity="0.55" filter="url(#blur2)"/>
<ellipse cx="826" cy="236" rx="4" ry="5" fill="#f7dccb" opacity="0.55" filter="url(#blur2)"/>
<ellipse cx="843" cy="248" rx="3" ry="5" fill="#f7dccb" opacity="0.55" filter="url(#blur2)"/>
<ellipse cx="780" cy="184" rx="5" ry="3" fill="#f7dccb" opacity="0.55" filter="url(#blur2)"/>
<ellipse cx="803" cy="272" rx="6" ry="4" fill="#f7dccb" opacity="0.55" filter="url(#blur2)"/>
<ellipse cx="819" cy="268" rx="4" ry="5" fill="#f7dccb" opacity="0.55" filter="url(#blur2)"/>
<ellipse cx="841" cy="288" rx="3" ry="6" fill="#f7dccb" opacity="0.55" filter="url(#blur2)"/>
<ellipse cx="819" cy="302" rx="4" ry="7" fill="#f7dccb" opacity="0.55" filter="url(#blur2)"/>
<ellipse cx="843" cy="316" rx="5" ry="3" fill="#f7dccb" opacity="0.55" filter="url(#blur2)"/>
<ellipse cx="799" cy="300" rx="3" ry="5" fill="#f7dccb" opacity="0.55" filter="url(#blur2)"/>
<ellipse cx="582" cy="261" rx="8" ry="4" fill="#f7dccb" opacity="0.55" filter="url(#blur2)"/>
<ellipse cx="770" cy="284" rx="8" ry="3" fill="#f7dccb" opacity="0.55" filter="url(#blur2)"/>
<ellipse cx="850" cy="276" rx="3" ry="6" fill="#f7dccb" opacity="0.55" filter="url(#blur2)"/>
<path d="M565.7,222.0 C567.2,222.3 571.6,223.1 574.6,223.8 C577.6,224.6 580.2,225.6 583.5,226.5 C586.8,227.4 591.1,228.6 594.2,229.0 C597.3,229.4 600.9,229.0 602.2,229.0" fill="none" stroke="#74402b" stroke-width="1.6" stroke-linecap="round" stroke-linejoin="round"/>
<path d="M581.7,194.4 C581.1,195.4 579.2,198.1 578.0,200.6 C576.8,203.1 575.2,206.5 574.6,209.5 C574.0,212.5 574.0,216.1 574.6,218.5 C575.2,220.9 575.3,222.3 578.0,223.8 C580.7,225.3 588.5,226.8 590.6,227.4" fill="none" stroke="#74402b" stroke-width="1.6" stroke-linecap="round" stroke-linejoin="round"/>
<path d="M590.6,190.0 C591.5,190.9 594.5,192.9 596.0,195.3 C597.5,197.7 598.6,200.9 599.5,204.2 C600.4,207.5 600.7,211.6 601.3,214.9 C601.9,218.2 602.7,222.3 603.0,223.8" fill="none" stroke="#74402b" stroke-width="1.6" stroke-linecap="round" stroke-linejoin="round"/>
<path d="M603.0,180.0 C603.6,181.1 605.8,184.2 606.7,186.4 C607.6,188.7 607.3,191.1 608.5,193.5 C609.7,195.9 611.7,198.2 613.8,200.6 C615.9,203.0 618.9,206.0 621.0,207.8 C623.1,209.6 625.4,210.7 626.3,211.3" fill="none" stroke="#74402b" stroke-width="1.6" stroke-linecap="round" stroke-linejoin="round"/>
<path d="M615.6,173.0 C615.9,174.1 616.2,177.1 617.4,179.3 C618.6,181.5 620.6,184.9 622.7,186.4 C624.8,187.9 627.6,189.0 629.8,188.2 C632.0,187.4 634.7,182.5 635.7,181.4" fill="none" stroke="#74402b" stroke-width="1.6" stroke-linecap="round" stroke-linejoin="round"/>
<path d="M624.5,168.6 C624.8,169.5 624.8,172.5 626.3,174.0 C627.8,175.5 632.2,176.9 633.4,177.5" fill="none" stroke="#74402b" stroke-width="1.6" stroke-linecap="round" stroke-linejoin="round"/>
<path d="M576.0,221.5 C578.0,222.1 585.4,222.6 588.0,225.0 C590.6,227.4 591.2,232.0 591.5,236.0 C591.8,240.0 590.2,246.8 590.0,249.0" fill="none" stroke="#74402b" stroke-width="1.6" stroke-linecap="round" stroke-linejoin="round"/>
<path d="M633.0,167.4 C634.1,168.5 637.7,171.3 639.7,174.0 C641.7,176.7 643.9,180.3 645.0,183.4 C646.1,186.5 645.9,190.0 646.4,192.7 C646.9,195.4 647.5,198.3 647.7,199.4" fill="none" stroke="#74402b" stroke-width="1.6" stroke-linecap="round" stroke-linejoin="round"/>
<path d="M625.0,184.7 C625.9,184.2 628.5,182.6 630.3,182.0 C632.1,181.4 634.8,181.5 635.7,181.4" fill="none" stroke="#74402b" stroke-width="1.6" stroke-linecap="round" stroke-linejoin="round"/>
<path d="M650.4,160.7 C651.3,162.2 654.4,167.3 655.7,170.0 C657.0,172.7 657.5,174.2 658.4,176.7 C659.3,179.1 659.5,182.7 661.0,184.7 C662.5,186.7 665.7,188.0 667.7,188.7 C669.7,189.4 671.7,189.1 673.0,188.7 C674.3,188.2 675.2,186.4 675.7,186.0" fill="none" stroke="#74402b" stroke-width="1.6" stroke-linecap="round" stroke-linejoin="round"/>
<path d="M671.7,158.0 C671.8,159.6 672.0,164.3 672.4,167.4 C672.8,170.5 674.7,174.5 674.4,176.7 C674.1,178.9 671.5,179.1 670.4,180.7 C669.3,182.2 668.2,185.1 667.7,186.0" fill="none" stroke="#74402b" stroke-width="1.6" stroke-linecap="round" stroke-linejoin="round"/>
<path d="M674.4,176.7 C675.5,176.2 678.8,175.3 681.0,174.0 C683.2,172.7 685.6,170.0 687.8,168.7 C690.0,167.4 692.4,167.3 694.4,166.0 C696.4,164.7 698.9,161.6 699.8,160.7" fill="none" stroke="#74402b" stroke-width="1.6" stroke-linecap="round" stroke-linejoin="round"/>
<path d="M655.7,170.0 C657.0,170.4 661.2,171.6 663.7,172.7 C666.2,173.8 669.3,176.0 670.4,176.7" fill="none" stroke="#74402b" stroke-width="1.6" stroke-linecap="round" stroke-linejoin="round"/>
<path d="M698.5,162.0 C697.8,164.4 694.6,172.5 694.4,176.7 C694.2,180.9 695.8,184.5 697.1,187.4 C698.5,190.3 701.8,192.2 702.5,194.0 C703.2,195.8 701.5,197.3 701.3,198.0" fill="none" stroke="#74402b" stroke-width="1.6" stroke-linecap="round" stroke-linejoin="round"/>
<path d="M646.4,194.0 C648.7,194.4 654.4,196.2 660.0,196.5 C665.6,196.8 673.3,196.2 680.0,196.0 C686.7,195.8 696.7,195.6 700.0,195.5" fill="none" stroke="#74402b" stroke-width="1.6" stroke-linecap="round" stroke-linejoin="round"/>
<path d="M725.4,159.3 C725.2,160.7 724.9,164.5 724.0,167.4 C723.1,170.3 721.8,174.3 720.0,176.7 C718.2,179.1 715.4,180.7 713.4,182.0 C711.4,183.3 708.9,184.2 708.0,184.7" fill="none" stroke="#74402b" stroke-width="1.6" stroke-linecap="round" stroke-linejoin="round"/>
<path d="M729.4,162.0 C730.1,163.3 732.5,167.6 733.4,170.0 C734.3,172.4 734.7,174.0 734.7,176.7 C734.7,179.4 733.9,182.9 733.4,186.0 C732.9,189.1 732.2,192.5 732.0,195.4 C731.8,198.3 732.0,202.1 732.0,203.4" fill="none" stroke="#74402b" stroke-width="1.6" stroke-linecap="round" stroke-linejoin="round"/>
<path d="M733.4,170.0 C734.5,169.3 738.2,166.9 740.0,166.0 C741.8,165.1 743.3,164.9 744.0,164.7" fill="none" stroke="#74402b" stroke-width="1.6" stroke-linecap="round" stroke-linejoin="round"/>
<path d="M752.0,168.7 C752.2,170.0 752.9,174.0 753.4,176.7 C753.9,179.4 755.2,183.1 754.7,184.7 C754.2,186.2 752.5,186.2 750.7,186.0 C748.9,185.8 745.8,183.6 744.0,183.4 C742.2,183.2 740.7,184.5 740.0,184.7" fill="none" stroke="#74402b" stroke-width="1.6" stroke-linecap="round" stroke-linejoin="round"/>
<path d="M754.7,184.7 C755.6,185.4 758.2,188.0 760.0,188.7 C761.8,189.4 763.8,188.0 765.4,188.7 C767.0,189.4 768.5,190.9 769.4,192.7 C770.3,194.5 770.6,198.3 770.8,199.4" fill="none" stroke="#74402b" stroke-width="1.6" stroke-linecap="round" stroke-linejoin="round"/>
<path d="M769.4,174.0 C769.2,175.6 768.0,180.3 768.0,183.4 C768.0,186.5 769.2,191.1 769.4,192.7" fill="none" stroke="#74402b" stroke-width="1.6" stroke-linecap="round" stroke-linejoin="round"/>
<path d="M740.0,203.4 C741.8,203.4 747.4,203.9 750.7,203.4 C754.0,202.9 756.9,201.8 760.0,200.7 C763.1,199.6 766.1,197.6 769.4,196.7 C772.7,195.8 778.2,195.6 780.0,195.4" fill="none" stroke="#74402b" stroke-width="1.6" stroke-linecap="round" stroke-linejoin="round"/>
<path d="M770.0,195.0 C771.3,194.6 775.3,193.3 778.0,192.4 C780.7,191.5 783.3,190.4 786.0,189.7 C788.7,189.0 792.7,188.6 794.0,188.4" fill="none" stroke="#74402b" stroke-width="1.6" stroke-linecap="round" stroke-linejoin="round"/>
<path d="M790.0,183.0 C790.0,184.6 789.7,189.5 790.0,192.4 C790.3,195.3 791.5,198.3 791.7,200.6 C791.9,202.9 791.3,205.2 791.2,206.1" fill="none" stroke="#74402b" stroke-width="1.6" stroke-linecap="round" stroke-linejoin="round"/>
<path d="M770.0,211.7 C771.1,211.5 774.3,211.1 776.7,210.6 C779.1,210.1 782.1,209.2 784.5,208.4 C786.9,207.7 789.0,206.3 791.2,206.1 C793.4,205.9 795.8,207.6 797.8,207.2 C799.8,206.8 801.0,204.6 803.4,203.9 C805.8,203.2 809.5,202.6 812.3,202.8 C815.1,203.0 818.7,204.6 820.0,205.0" fill="none" stroke="#74402b" stroke-width="1.6" stroke-linecap="round" stroke-linejoin="round"/>
<path d="M770.0,237.3 C771.1,236.9 774.5,236.0 776.7,235.1 C778.9,234.2 780.8,232.8 783.4,231.7 C786.0,230.6 789.5,230.1 792.3,228.4 C795.1,226.7 797.4,223.7 800.0,221.7 C802.6,219.7 805.5,217.5 807.9,216.2 C810.3,214.9 812.3,214.7 814.5,213.9 C816.7,213.2 819.5,212.2 821.2,211.7 C822.9,211.1 824.0,210.8 824.6,210.6" fill="none" stroke="#74402b" stroke-width="1.6" stroke-linecap="round" stroke-linejoin="round"/>
<path d="M824.6,210.6 C824.8,211.7 825.9,214.9 825.7,217.3 C825.5,219.7 824.6,222.6 823.5,225.0 C822.4,227.4 820.7,229.6 819.0,231.7 C817.3,233.8 815.1,235.6 813.4,237.3 C811.7,239.0 810.1,240.5 809.0,241.8 C807.9,243.1 807.2,243.8 806.7,245.0 C806.2,246.2 806.1,248.3 806.0,249.0" fill="none" stroke="#74402b" stroke-width="1.6" stroke-linecap="round" stroke-linejoin="round"/>
<path d="M781.0,237.3 C781.2,238.1 782.2,240.5 782.2,241.8 C782.2,243.1 781.2,244.5 781.0,245.0" fill="none" stroke="#74402b" stroke-width="1.6" stroke-linecap="round" stroke-linejoin="round"/>
<path d="M779.5,240.0 C780.2,240.9 782.6,243.9 783.9,245.6 C785.2,247.3 786.7,248.2 787.2,250.0 C787.8,251.8 787.6,254.5 787.2,256.7 C786.8,258.9 785.9,261.7 785.0,263.4 C784.1,265.1 782.2,266.1 781.7,266.7" fill="none" stroke="#74402b" stroke-width="1.6" stroke-linecap="round" stroke-linejoin="round"/>
<path d="M787.2,250.0 C788.3,249.6 791.7,248.2 793.9,247.8 C796.1,247.4 798.4,247.4 800.6,247.8 C802.8,248.2 805.2,249.8 807.3,250.0 C809.3,250.2 810.9,249.0 812.9,248.9 C814.9,248.8 817.5,248.9 819.5,249.5 C821.5,250.1 822.9,252.3 825.1,252.2 C827.3,252.1 831.6,249.4 832.9,248.9" fill="none" stroke="#74402b" stroke-width="1.6" stroke-linecap="round" stroke-linejoin="round"/>
<path d="M839.2,226.0 C838.7,228.3 837.7,236.4 836.2,240.0 C834.7,243.6 832.2,245.4 830.2,247.4 C828.2,249.4 825.3,251.2 824.3,251.9" fill="none" stroke="#74402b" stroke-width="1.6" stroke-linecap="round" stroke-linejoin="round"/>
<path d="M825.4,254.0 C826.5,254.7 830.2,256.2 832.0,258.0 C833.8,259.8 835.3,262.2 836.0,264.7 C836.7,267.1 836.7,270.0 836.0,272.7 C835.3,275.4 832.9,278.2 832.0,280.7 C831.1,283.1 830.5,285.2 830.7,287.4 C830.9,289.6 832.5,291.3 833.4,294.0 C834.3,296.7 835.3,300.7 836.0,303.4 C836.7,306.1 837.2,308.9 837.4,310.0" fill="none" stroke="#74402b" stroke-width="1.6" stroke-linecap="round" stroke-linejoin="round"/>
<path d="M825.1,252.2 C824.7,252.9 824.4,255.2 822.9,256.7 C821.4,258.2 818.6,260.3 816.2,261.2 C813.8,262.1 810.8,261.4 808.4,262.3 C806.0,263.2 803.6,264.9 801.7,266.7 C799.9,268.5 798.6,271.5 797.3,273.4 C796.0,275.3 796.5,276.6 793.9,277.9 C791.3,279.2 784.9,280.5 781.7,281.2 C778.6,281.9 776.1,282.1 775.0,282.3" fill="none" stroke="#74402b" stroke-width="1.6" stroke-linecap="round" stroke-linejoin="round"/>
<path d="M793.9,277.9 C795.6,278.4 801.2,280.5 804.0,281.2 C806.8,281.9 808.0,282.5 810.6,282.3 C813.2,282.1 818.1,280.4 819.6,280.0" fill="none" stroke="#74402b" stroke-width="1.6" stroke-linecap="round" stroke-linejoin="round"/>
<path d="M841.4,260.7 C842.5,260.5 845.6,259.4 848.0,259.4 C850.4,259.4 854.0,259.6 856.0,260.7 C858.0,261.8 859.3,263.3 860.0,266.0 C860.7,268.7 860.7,273.6 860.0,276.7 C859.3,279.8 857.5,282.9 856.0,284.7 C854.5,286.5 852.1,285.8 850.8,287.4 C849.5,288.9 848.9,291.8 848.0,294.0 C847.1,296.2 845.8,299.7 845.4,300.8" fill="none" stroke="#74402b" stroke-width="1.6" stroke-linecap="round" stroke-linejoin="round"/>
<path d="M841.4,260.7 C841.4,262.2 841.6,266.7 841.4,270.0 C841.2,273.3 840.0,277.6 840.0,280.7 C840.0,283.8 840.7,286.5 841.4,288.7 C842.1,290.9 842.9,292.9 844.0,294.0 C845.1,295.1 846.9,296.1 848.0,295.4 C849.1,294.7 850.3,293.1 850.8,290.0 C851.3,286.9 850.8,280.0 850.8,276.7 C850.8,273.4 850.8,271.1 850.8,270.0" fill="none" stroke="#74402b" stroke-width="1.6" stroke-linecap="round" stroke-linejoin="round"/>
<path d="M850.8,287.4 C851.7,287.8 854.5,290.0 856.0,290.0 C857.5,290.0 859.3,287.8 860.0,287.4" fill="none" stroke="#74402b" stroke-width="1.6" stroke-linecap="round" stroke-linejoin="round"/>
<path d="M778.6,290.7 C780.4,291.9 786.9,295.4 789.3,297.8 C791.7,300.2 790.7,301.7 792.8,305.0 C794.9,308.3 800.2,315.3 801.7,317.4" fill="none" stroke="#74402b" stroke-width="1.6" stroke-linecap="round" stroke-linejoin="round"/>
<path d="M792.8,305.0 C793.1,303.2 793.4,297.0 794.6,294.3 C795.8,291.6 797.3,290.5 800.0,289.0 C802.7,287.5 808.8,285.9 810.6,285.3" fill="none" stroke="#74402b" stroke-width="1.6" stroke-linecap="round" stroke-linejoin="round"/>
<path d="M810.6,285.3 C810.9,287.1 811.5,292.1 812.4,296.0 C813.3,299.9 814.5,304.6 816.0,308.5 C817.5,312.4 818.6,316.8 821.3,319.2 C824.0,321.6 828.4,322.5 832.0,322.8 C835.6,323.1 839.7,321.9 842.7,321.0 C845.7,320.1 847.4,318.3 849.8,317.4 C852.2,316.5 855.8,315.9 857.0,315.6" fill="none" stroke="#74402b" stroke-width="1.6" stroke-linecap="round" stroke-linejoin="round"/>
<path d="M819.6,280.0 C820.2,281.8 821.9,287.1 823.1,290.7 C824.3,294.3 824.9,298.4 826.7,301.4 C828.5,304.4 830.8,307.0 833.8,308.5 C836.8,310.0 841.2,310.6 844.5,310.3 C847.8,310.0 851.0,308.5 853.4,306.7 C855.8,304.9 857.9,300.8 858.8,299.6" fill="none" stroke="#74402b" stroke-width="1.6" stroke-linecap="round" stroke-linejoin="round"/>
<path d="M828.5,322.8 C828.8,324.3 828.7,329.3 830.2,331.7 C831.7,334.1 834.4,336.4 837.4,337.0 C840.4,337.6 846.2,335.6 848.0,335.3" fill="none" stroke="#74402b" stroke-width="1.6" stroke-linecap="round" stroke-linejoin="round"/>
<path d="M821.3,342.4 C823.1,342.7 828.4,344.2 832.0,344.2 C835.6,344.2 840.9,342.7 842.7,342.4" fill="none" stroke="#74402b" stroke-width="1.6" stroke-linecap="round" stroke-linejoin="round"/>
<path d="M755.0,286.0 C756.3,285.8 759.4,285.3 762.7,284.7 C766.0,284.1 773.0,282.7 775.0,282.3" fill="none" stroke="#74402b" stroke-width="1.6" stroke-linecap="round" stroke-linejoin="round"/>
<path d="M796.0,284.7 C795.6,286.2 794.1,290.9 793.4,294.0 C792.7,297.1 792.0,300.7 792.0,303.4 C792.0,306.1 793.2,308.9 793.4,310.0" fill="none" stroke="#74402b" stroke-width="1.6" stroke-linecap="round" stroke-linejoin="round"/>
<path d="M777.4,288.7 C778.5,289.6 782.0,292.7 784.0,294.0 C786.0,295.3 788.5,296.2 789.4,296.7" fill="none" stroke="#74402b" stroke-width="1.6" stroke-linecap="round" stroke-linejoin="round"/>
<path d="M808.0,283.4 C808.5,284.5 810.1,287.6 810.8,290.0 C811.5,292.4 812.2,294.7 812.0,298.0 C811.8,301.3 809.8,308.0 809.4,310.0" fill="none" stroke="#74402b" stroke-width="1.6" stroke-linecap="round" stroke-linejoin="round"/>
</g>
<path d="M622.0,299.0 L618.3,298.7 L615.7,298.4 L614.1,298.1 L613.3,297.7 L613.0,297.3 L613.0,296.9 L613.2,296.4 L613.2,296.0 L612.9,295.5 L612.0,295.0 L611.2,294.7 L610.3,294.3 L609.5,294.0 L608.6,293.6 L607.7,293.2 L606.8,292.8 L605.8,292.4 L604.9,292.0 L603.9,291.6 L603.0,291.2 L602.0,290.8 L601.0,290.4 L600.0,289.9 L599.0,289.5 L598.0,289.0 L597.1,288.6 L596.2,288.2 L595.2,287.7 L594.2,287.3 L593.3,286.8 L592.3,286.3 L591.3,285.8 L590.3,285.4 L589.3,284.9 L588.3,284.4 L587.3,283.9 L586.3,283.4 L585.4,282.9 L584.5,282.4 L583.6,282.0 L582.8,281.5 L582.0,281.0 L581.0,280.3 L580.0,279.7 L579.0,279.0 L578.1,278.4 L577.3,277.8 L576.5,277.1 L575.7,276.5 L575.0,275.8 L574.2,275.1 L573.5,274.4 L572.7,273.7 L572.0,273.0 L571.2,272.2 L570.5,271.5 L569.7,270.7 L569.0,269.9 L568.3,269.1 L567.6,268.2 L566.9,267.4 L566.2,266.6 L565.6,265.7 L565.0,264.8 L564.5,263.9 L564.0,263.0 L563.6,262.1 L563.2,261.1 L562.9,260.1 L562.6,259.1 L562.3,258.1 L562.1,257.1 L561.9,256.1 L561.7,255.1 L561.5,254.0 L561.3,253.0 L561.2,252.0 L561.0,251.0 L560.8,250.0 L560.7,249.0 L560.5,248.0 L560.4,247.0 L560.3,246.0 L560.2,245.0 L560.1,244.0 L560.0,243.0 L560.0,242.0 L560.0,241.0 L560.0,240.0 L560.0,239.0 L560.1,238.0 L560.1,237.0 L560.2,236.0 L560.4,235.0 L560.5,233.9 L560.7,232.9 L560.9,231.9 L561.1,230.9 L561.3,229.9 L561.5,228.9 L561.8,228.0 L562.0,227.0 L562.3,225.9 L562.6,224.9 L562.9,223.8 L563.3,222.7 L563.7,221.6 L564.1,220.5 L564.5,219.5 L564.9,218.5 L565.3,217.6 L565.7,216.8 L566.1,216.0 L566.9,215.0 L567.7,214.3 L568.6,213.8 L569.6,213.4 L570.8,212.7 L571.9,211.7 L572.2,210.9 L572.4,210.0 L572.5,209.0 L572.5,207.9 L572.7,206.8 L573.1,205.7 L573.6,204.6 L574.3,203.7 L575.2,202.8 L576.2,202.0 L577.2,201.2 L578.1,200.5 L578.8,199.8 L579.4,198.8 L579.8,197.8 L580.2,196.7 L580.7,195.8 L581.4,194.9 L582.2,194.2 L583.0,193.6 L583.9,193.1 L584.8,192.7 L585.7,192.4 L587.5,191.8 L588.4,191.6 L589.7,191.0 L590.3,190.5 L590.8,189.8 L591.3,189.0 L591.7,188.1 L592.4,187.2 L593.2,186.4 L594.1,185.7 L595.0,185.0 L595.7,184.4 L596.5,183.9 L597.2,183.3 L598.1,182.8 L598.9,182.3 L599.9,181.9 L601.1,181.5 L602.3,181.1 L603.5,180.7 L604.6,180.2 L605.2,179.6 L605.7,178.8 L606.2,178.0 L606.8,177.2 L607.6,176.4 L608.4,175.8 L609.4,175.2 L610.5,174.7 L611.7,174.3 L612.9,174.0 L614.2,173.8 L615.4,173.6 L616.4,173.3 L617.3,172.7 L618.0,172.0 L618.5,171.2 L619.1,170.4 L619.7,169.7 L620.5,169.3 L621.6,169.1 L622.7,168.9 L624.0,168.8 L625.2,168.7 L626.4,168.4 L627.1,168.0 L627.8,167.5 L628.4,166.9 L629.1,166.3 L630.2,166.3 L631.5,166.4 L632.7,166.4 L633.9,166.4 L634.9,166.1 L635.7,165.6 L636.4,165.0 L637.2,164.4 L638.1,163.9 L639.1,163.6 L640.0,163.3 L641.0,163.1 L642.0,162.9 L643.0,162.7 L644.1,162.6 L645.2,162.5 L646.4,162.5 L647.7,162.6 L649.0,162.8 L650.3,163.0 L651.4,163.0 L652.4,162.7 L653.1,162.3 L653.8,161.7 L654.5,161.3 L655.2,160.9 L656.3,160.4 L657.5,160.1 L658.6,159.8 L659.6,159.6 L660.6,159.3 L661.6,159.1 L662.5,159.0 L663.4,158.8 L664.2,158.7 L665.0,158.6 L666.3,158.5 L667.5,158.7 L668.6,159.0 L669.6,159.3 L670.7,159.6 L671.8,159.8 L672.6,159.6 L673.2,159.1 L673.8,158.4 L674.5,157.7 L675.5,156.8 L677.1,156.2 L677.7,156.0 L678.5,155.9 L679.3,155.8 L680.2,155.8 L681.1,155.7 L682.0,155.7 L683.0,155.6 L684.1,155.6 L685.1,155.6 L686.2,155.5 L687.3,155.5 L688.4,155.5 L689.5,155.5 L690.6,155.5 L691.8,155.5 L692.9,155.7 L694.0,155.9 L695.1,156.3 L696.2,156.7 L697.2,157.2 L698.3,157.5 L699.3,157.5 L700.3,157.2 L701.3,156.8 L702.3,156.4 L703.4,156.1 L704.4,155.9 L705.5,155.9 L706.6,155.9 L707.6,156.0 L708.7,156.0 L709.7,156.1 L710.7,156.1 L711.6,156.2 L712.5,156.3 L713.4,156.4 L714.2,156.4 L715.0,156.5 L716.4,156.7 L717.7,156.9 L718.9,157.2 L719.9,157.6 L720.8,158.1 L721.7,158.6 L722.5,159.3 L723.3,159.8 L724.0,160.3 L724.8,160.5 L725.9,160.4 L726.8,160.1 L727.6,159.8 L728.5,159.4 L729.5,159.1 L731.0,159.1 L731.8,159.2 L732.6,159.4 L733.6,159.7 L734.6,159.9 L735.7,160.2 L736.9,160.5 L738.0,160.9 L739.1,161.2 L740.3,161.5 L741.3,161.9 L742.4,162.2 L743.3,162.5 L744.2,162.8 L745.0,163.1 L746.4,163.8 L747.4,164.6 L748.1,165.5 L748.8,166.2 L749.5,166.9 L750.3,167.4 L751.3,167.6 L752.3,167.5 L753.3,167.4 L754.5,167.3 L755.6,167.4 L757.0,167.6 L757.8,167.8 L758.7,168.1 L759.6,168.4 L760.6,168.8 L761.5,169.2 L762.5,169.8 L763.3,170.5 L764.2,171.4 L765.0,172.2 L766.0,172.7 L766.9,173.0 L767.9,173.0 L769.0,173.0 L770.1,172.9 L771.2,173.0 L772.2,173.2 L773.2,173.5 L774.1,173.8 L775.1,174.2 L776.1,174.6 L777.0,175.1 L778.0,175.5 L779.0,176.0 L779.8,176.4 L780.7,176.9 L781.5,177.3 L782.4,177.8 L783.3,178.3 L784.2,178.8 L785.0,179.4 L785.8,180.1 L786.5,180.8 L787.1,181.7 L787.7,182.5 L788.3,183.3 L789.1,183.9 L790.1,184.3 L791.2,184.5 L792.3,184.7 L793.5,184.9 L794.6,185.3 L795.6,185.7 L796.5,186.2 L797.4,186.7 L798.3,187.2 L799.1,187.8 L799.9,188.3 L800.6,189.0 L801.2,189.7 L801.7,190.5 L802.2,191.3 L802.7,192.1 L803.4,192.7 L804.4,193.2 L805.6,193.5 L806.9,193.8 L808.1,194.2 L809.3,194.6 L810.3,195.2 L811.2,195.7 L812.1,196.3 L813.0,197.0 L813.9,197.6 L814.7,198.2 L815.5,198.8 L816.3,199.4 L817.0,200.0 L817.9,200.8 L818.6,201.5 L819.3,202.3 L819.9,203.1 L820.3,203.9 L820.7,204.8 L820.9,205.7 L821.2,206.6 L821.7,207.4 L822.5,208.1 L823.6,208.7 L824.8,209.1 L826.1,209.6 L827.2,210.1 L828.3,210.6 L829.3,211.2 L830.2,211.8 L831.2,212.5 L832.0,213.1 L832.9,213.8 L833.7,214.5 L834.4,215.2 L835.0,216.0 L835.6,216.9 L836.1,217.9 L836.4,218.9 L836.7,220.0 L836.9,221.1 L836.9,222.3 L836.7,223.5 L836.5,224.6 L836.5,225.7 L836.7,226.7 L837.2,227.5 L838.2,228.3 L839.2,229.0 L840.3,229.7 L841.2,230.3 L841.7,231.0 L842.0,231.8 L842.3,232.6 L842.5,233.5 L843.0,234.4 L843.7,235.2 L844.6,235.9 L845.7,236.7 L846.7,237.4 L847.6,238.3 L848.3,239.2 L848.9,240.1 L849.5,241.0 L850.0,242.0 L850.5,243.0 L851.0,244.0 L851.4,244.9 L851.8,245.9 L852.2,246.9 L852.5,247.9 L852.9,249.0 L853.1,250.0 L853.3,251.1 L853.3,252.1 L853.2,253.2 L853.0,254.2 L852.9,255.2 L853.0,256.1 L853.4,257.1 L854.1,258.1 L854.7,259.0 L855.1,260.0 L855.0,260.9 L854.9,261.8 L855.0,262.8 L855.3,263.8 L855.8,264.8 L856.4,266.0 L856.9,266.9 L857.3,267.8 L857.7,268.7 L858.1,269.6 L858.5,270.6 L858.8,271.6 L859.2,272.6 L859.5,273.7 L859.8,274.7 L860.1,275.7 L860.4,276.8 L860.6,277.9 L860.8,278.9 L861.0,280.0 L861.0,280.9 L861.0,281.9 L860.9,282.9 L860.6,283.8 L860.1,284.7 L859.7,285.7 L859.3,286.6 L859.2,287.7 L859.4,288.7 L859.7,289.8 L860.1,290.9 L860.4,292.0 L860.6,293.0 L860.5,294.1 L860.3,295.0 L859.9,295.9 L859.4,296.8 L858.8,297.8 L858.3,298.7 L858.0,299.8 L858.1,300.9 L858.3,302.0 L858.6,303.1 L858.8,304.3 L858.8,305.3 L858.7,306.3 L858.6,307.3 L858.4,308.2 L858.2,309.1 L858.0,310.0 L857.7,311.2 L857.4,312.3 L857.2,313.3 L856.9,314.3 L856.6,315.2 L856.3,316.2 L856.0,317.1 L855.7,318.1 L855.3,319.0 L855.0,320.0 L854.6,321.0 L854.3,322.0 L853.9,323.0 L853.5,324.0 L853.0,324.9 L852.4,325.8 L851.6,326.6 L850.7,327.4 L849.8,328.2 L849.2,329.1 L848.9,330.1 L848.8,331.1 L848.8,332.3 L848.7,333.4 L848.5,334.4 L848.1,335.4 L847.7,336.3 L847.1,337.3 L846.5,338.2 L845.8,339.1 L845.0,340.0 L844.4,340.7 L843.7,341.4 L843.0,342.1 L842.2,342.8 L841.4,343.5 L840.6,344.2 L839.8,345.0 L838.9,345.7 L838.1,346.4 L837.2,347.0 L836.4,347.7 L835.5,348.3 L834.6,348.9 L833.8,349.5 L833.0,350.0 L832.1,350.6 L831.1,351.1 L830.2,351.7 L829.3,352.2 L828.3,352.7 L827.4,353.1 L826.5,353.5 L825.5,353.9 L824.6,354.2 L823.7,354.5 L822.8,354.7 L821.9,354.9 L821.0,355.0 L820.0,355.1 L819.1,355.4 L818.2,355.6 L817.3,355.8 L816.4,355.9 L815.6,355.9 L814.6,355.7 L813.6,355.3 L812.5,354.5 L811.3,353.5 L810.0,352.0 L809.6,351.5 L809.2,351.0 L808.8,350.4 L808.4,349.7 L808.0,349.0 L807.6,348.3 L807.2,347.6 L806.8,346.8 L806.4,345.9 L806.0,345.1 L805.6,344.2 L805.2,343.3 L804.7,342.4 L804.3,341.4 L803.9,340.5 L803.4,339.5 L803.0,338.5 L802.5,337.5 L802.1,336.4 L801.6,335.4 L801.1,334.4 L800.6,333.4 L800.1,332.3 L799.6,331.3 L799.0,330.3 L798.5,329.3 L797.9,328.3 L797.4,327.3 L796.8,326.3 L796.2,325.4 L795.5,324.5 L794.9,323.5 L794.3,322.7 L793.6,321.8 L792.9,321.0 L792.2,320.2 L791.5,319.4 L790.8,318.7 L790.0,318.0 L789.3,317.4 L788.6,316.8 L787.8,316.2 L787.1,315.6 L786.3,315.1 L785.5,314.5 L784.7,314.0 L783.9,313.4 L783.1,312.9 L782.3,312.3 L781.4,311.8 L780.6,311.3 L779.7,310.8 L778.8,310.3 L777.9,309.8 L777.0,309.3 L776.1,308.9 L775.2,308.4 L774.2,308.0 L773.3,307.5 L772.4,307.1 L771.4,306.7 L770.4,306.2 L769.5,305.8 L768.5,305.4 L767.5,305.1 L766.5,304.7 L765.5,304.3 L764.5,304.0 L763.5,303.6 L762.4,303.3 L761.4,302.9 L760.4,302.6 L759.4,302.3 L758.3,302.0 L757.3,301.7 L756.3,301.4 L755.2,301.2 L754.2,300.9 L753.1,300.7 L752.1,300.4 L751.0,300.2 L750.0,300.0 L749.1,299.8 L748.2,299.7 L747.3,299.5 L746.4,299.4 L745.5,299.3 L744.6,299.2 L743.8,299.1 L742.9,299.0 L742.0,298.9 L741.1,298.9 L740.2,298.8 L739.3,298.8 L738.4,298.7 L737.5,298.7 L736.6,298.7 L735.7,298.7 L734.8,298.7 L733.9,298.7 L733.0,298.7 L732.1,298.8 L731.1,298.8 L730.2,298.8 L729.3,298.8 L728.3,298.9 L727.4,298.9 L726.4,299.0 L725.4,299.0 L724.5,299.1 L723.5,299.1 L722.5,299.2 L721.5,299.3 L720.5,299.3 L719.5,299.4 L718.4,299.4 L717.4,299.5 L716.3,299.6 L715.2,299.6 L714.2,299.7 L713.1,299.7 L712.0,299.8 L710.8,299.8 L709.7,299.9 L708.5,299.9 L707.4,299.9 L706.2,300.0 L705.0,300.0 L703.8,300.0 L702.5,300.0 L701.3,300.0 L700.0,300.0 L699.2,300.0 L698.3,300.0 L697.4,300.0 L696.6,300.0 L695.7,300.0 L694.7,300.0 L693.8,300.0 L692.8,300.0 L691.9,299.9 L690.9,299.9 L689.9,299.9 L688.9,299.9 L687.8,299.9 L686.8,299.9 L685.7,299.9 L684.7,299.9 L683.6,299.9 L682.5,299.9 L681.4,299.9 L680.3,299.9 L679.2,299.9 L678.1,299.9 L677.0,299.9 L675.8,299.9 L674.7,299.9 L673.6,299.9 L672.4,299.8 L671.3,299.8 L670.1,299.8 L668.9,299.8 L667.8,299.8 L666.6,299.8 L665.5,299.8 L664.3,299.8 L663.1,299.8 L662.0,299.8 L660.8,299.8 L659.7,299.8 L658.5,299.8 L657.3,299.7 L656.2,299.7 L655.1,299.7 L653.9,299.7 L652.8,299.7 L651.7,299.7 L650.5,299.7 L649.4,299.7 L648.3,299.6 L647.2,299.6 L646.1,299.6 L645.1,299.6 L644.0,299.6 L642.9,299.6 L641.9,299.6 L640.9,299.5 L639.9,299.5 L638.9,299.5 L637.9,299.5 L636.9,299.5 L635.9,299.5 L635.0,299.4 L634.1,299.4 L633.2,299.4 L632.3,299.4 L631.4,299.4 L630.5,299.3 L629.7,299.3 L628.9,299.3 L628.1,299.3 L627.3,299.2 L626.6,299.2 L625.8,299.2 L625.1,299.2 L624.5,299.1 L623.8,299.1 L623.2,299.1 L622.6,299.0 Z" fill="none" stroke="#8a5540" stroke-width="1.2" />
<clipPath id="cpOrb"><path d="M566.0,252.0 C569.2,249.8 577.7,250.3 584.0,250.0 C590.3,249.7 596.3,250.2 604.0,250.0 C611.7,249.8 622.9,248.4 630.0,249.0 C637.1,249.6 641.5,252.3 646.7,253.5 C651.9,254.7 657.7,254.6 661.0,256.0 C664.3,257.4 665.5,259.7 666.7,261.7 C667.9,263.7 667.7,264.9 668.0,268.0 C668.3,271.1 669.0,276.3 668.5,280.0 C668.0,283.7 667.1,287.3 665.0,290.0 C662.9,292.7 660.8,294.2 656.0,296.0 C651.2,297.8 641.7,300.5 636.0,301.0 C630.3,301.5 628.3,301.0 622.0,299.0 C615.7,297.0 604.7,292.0 598.0,289.0 C591.3,286.0 586.3,283.7 582.0,281.0 C577.7,278.3 574.8,276.0 572.0,273.0 C569.2,270.0 566.0,266.5 565.0,263.0 C564.0,259.5 562.8,254.2 566.0,252.0 Z"/></clipPath>
<linearGradient id="gOrb" x1="565" y1="0" x2="668" y2="0" gradientUnits="userSpaceOnUse"><stop offset="0" stop-color="#d8a28a"/><stop offset="0.5" stop-color="#c99680"/><stop offset="1" stop-color="#a06b5a"/></linearGradient>
<path d="M566.0,252.0 C569.2,249.8 577.7,250.3 584.0,250.0 C590.3,249.7 596.3,250.2 604.0,250.0 C611.7,249.8 622.9,248.4 630.0,249.0 C637.1,249.6 641.5,252.3 646.7,253.5 C651.9,254.7 657.7,254.6 661.0,256.0 C664.3,257.4 665.5,259.7 666.7,261.7 C667.9,263.7 667.7,264.9 668.0,268.0 C668.3,271.1 669.0,276.3 668.5,280.0 C668.0,283.7 667.1,287.3 665.0,290.0 C662.9,292.7 660.8,294.2 656.0,296.0 C651.2,297.8 641.7,300.5 636.0,301.0 C630.3,301.5 628.3,301.0 622.0,299.0 C615.7,297.0 604.7,292.0 598.0,289.0 C591.3,286.0 586.3,283.7 582.0,281.0 C577.7,278.3 574.8,276.0 572.0,273.0 C569.2,270.0 566.0,266.5 565.0,263.0 C564.0,259.5 562.8,254.2 566.0,252.0 Z" fill="url(#gOrb)" stroke="none" stroke-width="0" />
<g clip-path="url(#cpOrb)">
<path d="M566.0,252.0 C569.2,249.8 577.7,250.3 584.0,250.0 C590.3,249.7 596.3,250.2 604.0,250.0 C611.7,249.8 622.9,248.4 630.0,249.0 C637.1,249.6 641.5,252.3 646.7,253.5 C651.9,254.7 657.7,254.6 661.0,256.0 C664.3,257.4 665.5,259.7 666.7,261.7 C667.9,263.7 667.7,264.9 668.0,268.0 C668.3,271.1 669.0,276.3 668.5,280.0 C668.0,283.7 667.1,287.3 665.0,290.0 C662.9,292.7 660.8,294.2 656.0,296.0 C651.2,297.8 641.7,300.5 636.0,301.0 C630.3,301.5 628.3,301.0 622.0,299.0 C615.7,297.0 604.7,292.0 598.0,289.0 C591.3,286.0 586.3,283.7 582.0,281.0 C577.7,278.3 574.8,276.0 572.0,273.0 C569.2,270.0 566.0,266.5 565.0,263.0 C564.0,259.5 562.8,254.2 566.0,252.0 Z" fill="none" stroke="#7f4f40" stroke-width="5" filter="url(#blur2)" opacity="0.6"/>
<ellipse cx="655" cy="272" rx="6" ry="12" fill="#e6b7a6" opacity="0.45" filter="url(#blur2)"/>
<path d="M572.0,263.0 C576.7,263.2 590.7,263.3 600.0,264.5 C609.3,265.7 618.8,267.8 628.0,270.0 C637.2,272.2 650.5,276.7 655.0,278.0" fill="none" stroke="#ecc4b2" stroke-width="3" opacity="0.7" filter="url(#blur1)" stroke-linecap="round"/>
<path d="M580.0,274.0 C584.3,274.5 597.3,275.5 606.0,277.0 C614.7,278.5 623.7,280.8 632.0,283.0 C640.3,285.2 652.0,288.8 656.0,290.0" fill="none" stroke="#ecc4b2" stroke-width="3" opacity="0.7" filter="url(#blur1)" stroke-linecap="round"/>
<path d="M596.0,288.0 C600.0,288.7 611.8,290.5 620.0,292.0 C628.2,293.5 640.8,296.2 645.0,297.0" fill="none" stroke="#ecc4b2" stroke-width="3" opacity="0.7" filter="url(#blur1)" stroke-linecap="round"/>
<path d="M570.0,255.5 C575.0,255.7 590.0,255.4 600.0,256.5 C610.0,257.6 620.8,260.1 630.0,262.0 C639.2,263.9 650.8,267.0 655.0,268.0" fill="none" stroke="#ecc4b2" stroke-width="3" opacity="0.7" filter="url(#blur1)" stroke-linecap="round"/>
<path d="M566.0,258.5 C569.7,258.7 581.0,258.9 588.0,259.5 C595.0,260.1 601.3,260.9 608.0,262.0 C614.7,263.1 621.3,264.5 628.0,266.0 C634.7,267.5 642.2,269.3 648.0,271.0 C653.8,272.7 660.5,275.2 663.0,276.0" fill="none" stroke="#8a5646" stroke-width="2.6" opacity="0.45" filter="url(#blur1)" stroke-linecap="round"/>
<path d="M566.0,258.5 C569.7,258.7 581.0,258.9 588.0,259.5 C595.0,260.1 601.3,260.9 608.0,262.0 C614.7,263.1 621.3,264.5 628.0,266.0 C634.7,267.5 642.2,269.3 648.0,271.0 C653.8,272.7 660.5,275.2 663.0,276.0" fill="none" stroke="#7e4a3a" stroke-width="0.9" opacity="0.85" stroke-linecap="round"/>
<path d="M572.0,268.0 C576.3,268.3 590.0,268.8 598.0,270.0 C606.0,271.2 612.7,273.2 620.0,275.0 C627.3,276.8 635.2,279.2 642.0,281.0 C648.8,282.8 657.8,285.2 661.0,286.0" fill="none" stroke="#8a5646" stroke-width="2.6" opacity="0.45" filter="url(#blur1)" stroke-linecap="round"/>
<path d="M572.0,268.0 C576.3,268.3 590.0,268.8 598.0,270.0 C606.0,271.2 612.7,273.2 620.0,275.0 C627.3,276.8 635.2,279.2 642.0,281.0 C648.8,282.8 657.8,285.2 661.0,286.0" fill="none" stroke="#7e4a3a" stroke-width="0.9" opacity="0.85" stroke-linecap="round"/>
<path d="M584.0,279.0 C588.0,279.8 600.3,281.8 608.0,283.5 C615.7,285.2 622.3,287.4 630.0,289.0 C637.7,290.6 650.0,292.3 654.0,293.0" fill="none" stroke="#8a5646" stroke-width="2.6" opacity="0.45" filter="url(#blur1)" stroke-linecap="round"/>
<path d="M584.0,279.0 C588.0,279.8 600.3,281.8 608.0,283.5 C615.7,285.2 622.3,287.4 630.0,289.0 C637.7,290.6 650.0,292.3 654.0,293.0" fill="none" stroke="#7e4a3a" stroke-width="0.9" opacity="0.85" stroke-linecap="round"/>
<path d="M575.0,252.5 C578.5,252.7 588.8,252.8 596.0,253.5 C603.2,254.2 610.7,255.4 618.0,256.5 C625.3,257.6 633.0,258.8 640.0,260.0 C647.0,261.2 656.7,263.3 660.0,264.0" fill="none" stroke="#8a5646" stroke-width="2.6" opacity="0.45" filter="url(#blur1)" stroke-linecap="round"/>
<path d="M575.0,252.5 C578.5,252.7 588.8,252.8 596.0,253.5 C603.2,254.2 610.7,255.4 618.0,256.5 C625.3,257.6 633.0,258.8 640.0,260.0 C647.0,261.2 656.7,263.3 660.0,264.0" fill="none" stroke="#7e4a3a" stroke-width="0.9" opacity="0.85" stroke-linecap="round"/>
<ellipse cx="664" cy="276" rx="5" ry="14" fill="#7e4e3e" opacity="0.55" filter="url(#blur2)"/>
<ellipse cx="659" cy="282" rx="2.5" ry="6" fill="#d9a898" opacity="0.6" filter="url(#blur1)"/>
</g>
<path d="M566.0,252.0 C569.2,249.8 577.7,250.3 584.0,250.0 C590.3,249.7 596.3,250.2 604.0,250.0 C611.7,249.8 622.9,248.4 630.0,249.0 C637.1,249.6 641.5,252.3 646.7,253.5 C651.9,254.7 657.7,254.6 661.0,256.0 C664.3,257.4 665.5,259.7 666.7,261.7 C667.9,263.7 667.7,264.9 668.0,268.0 C668.3,271.1 669.0,276.3 668.5,280.0 C668.0,283.7 667.1,287.3 665.0,290.0 C662.9,292.7 660.8,294.2 656.0,296.0 C651.2,297.8 641.7,300.5 636.0,301.0 C630.3,301.5 628.3,301.0 622.0,299.0 C615.7,297.0 604.7,292.0 598.0,289.0 C591.3,286.0 586.3,283.7 582.0,281.0 C577.7,278.3 574.8,276.0 572.0,273.0 C569.2,270.0 566.0,266.5 565.0,263.0 C564.0,259.5 562.8,254.2 566.0,252.0 Z" fill="none" stroke="#8a5848" stroke-width="0.7" />
<clipPath id="cpTan"><path d="M618.0,300.0 C621.3,298.0 632.2,299.7 640.0,299.0 C647.8,298.3 656.8,296.7 665.0,296.0 C673.2,295.3 685.0,293.6 689.0,295.0 C693.0,296.4 689.3,300.8 689.0,304.6 C688.7,308.4 688.5,314.3 687.0,318.0 C685.5,321.7 684.2,324.8 680.0,327.0 C675.8,329.2 667.9,330.7 662.0,331.0 C656.1,331.3 649.7,330.5 644.5,329.0 C639.3,327.5 635.1,325.0 631.0,322.0 C626.9,319.0 622.2,314.7 620.0,311.0 C617.8,307.3 614.7,302.0 618.0,300.0 Z"/></clipPath>
<path d="M618.0,300.0 C621.3,298.0 632.2,299.7 640.0,299.0 C647.8,298.3 656.8,296.7 665.0,296.0 C673.2,295.3 685.0,293.6 689.0,295.0 C693.0,296.4 689.3,300.8 689.0,304.6 C688.7,308.4 688.5,314.3 687.0,318.0 C685.5,321.7 684.2,324.8 680.0,327.0 C675.8,329.2 667.9,330.7 662.0,331.0 C656.1,331.3 649.7,330.5 644.5,329.0 C639.3,327.5 635.1,325.0 631.0,322.0 C626.9,319.0 622.2,314.7 620.0,311.0 C617.8,307.3 614.7,302.0 618.0,300.0 Z" fill="#dcac6a" stroke="none" stroke-width="0" />
<g clip-path="url(#cpTan)">
<radialGradient id="gLump"><stop offset="0" stop-color="#e9c184"/><stop offset="0.65" stop-color="#d8a962"/><stop offset="1" stop-color="#bb8a4a"/></radialGradient>
<ellipse cx="632.5" cy="306.0" rx="13.5" ry="9.0" fill="url(#gLump)"/>
<ellipse cx="652.5" cy="309.0" rx="12.5" ry="10.0" fill="url(#gLump)"/>
<ellipse cx="675.0" cy="313.5" rx="16.0" ry="10.5" fill="url(#gLump)"/>
<ellipse cx="642.0" cy="322.5" rx="14.0" ry="10.5" fill="url(#gLump)"/>
<ellipse cx="666.0" cy="325.5" rx="15.0" ry="9.5" fill="url(#gLump)"/>
<ellipse cx="683.5" cy="320.0" rx="9.5" ry="9.0" fill="url(#gLump)"/>
</g>
<path d="M618.0,300.0 C621.3,298.0 632.2,299.7 640.0,299.0 C647.8,298.3 656.8,296.7 665.0,296.0 C673.2,295.3 685.0,293.6 689.0,295.0 C693.0,296.4 689.3,300.8 689.0,304.6 C688.7,308.4 688.5,314.3 687.0,318.0 C685.5,321.7 684.2,324.8 680.0,327.0 C675.8,329.2 667.9,330.7 662.0,331.0 C656.1,331.3 649.7,330.5 644.5,329.0 C639.3,327.5 635.1,325.0 631.0,322.0 C626.9,319.0 622.2,314.7 620.0,311.0 C617.8,307.3 614.7,302.0 618.0,300.0 Z" fill="none" stroke="#b08046" stroke-width="0.7" />
<path d="M644.0,238.0 C644.7,234.3 644.7,231.7 650.0,230.0 C655.3,228.3 663.3,227.3 676.0,228.0 C688.7,228.7 714.7,230.3 726.0,234.0 C737.3,237.7 739.3,244.3 744.0,250.0 C748.7,255.7 753.3,262.0 754.0,268.0 C754.7,274.0 752.3,282.0 748.0,286.0 C743.7,290.0 735.2,290.3 728.0,292.0 C720.8,293.7 711.3,294.7 705.0,296.0 C698.7,297.3 695.5,298.3 690.0,300.0 C684.5,301.7 676.0,306.5 672.0,306.0 C668.0,305.5 666.6,301.0 666.0,297.0 C665.4,293.0 668.2,287.5 668.5,282.0 C668.8,276.5 669.2,268.3 668.0,264.0 C666.8,259.7 664.7,258.0 661.0,256.0 C657.3,254.0 648.8,255.0 646.0,252.0 C643.2,249.0 643.3,241.7 644.0,238.0 Z" fill="#d4a460" stroke="none" stroke-width="0" />
<clipPath id="cpDien"><path d="M644.0,238.0 C644.7,234.3 644.7,231.7 650.0,230.0 C655.3,228.3 663.3,227.3 676.0,228.0 C688.7,228.7 714.7,230.3 726.0,234.0 C737.3,237.7 739.3,244.3 744.0,250.0 C748.7,255.7 753.3,262.0 754.0,268.0 C754.7,274.0 752.3,282.0 748.0,286.0 C743.7,290.0 735.2,290.3 728.0,292.0 C720.8,293.7 711.3,294.7 705.0,296.0 C698.7,297.3 695.5,298.3 690.0,300.0 C684.5,301.7 676.0,306.5 672.0,306.0 C668.0,305.5 666.6,301.0 666.0,297.0 C665.4,293.0 668.2,287.5 668.5,282.0 C668.8,276.5 669.2,268.3 668.0,264.0 C666.8,259.7 664.7,258.0 661.0,256.0 C657.3,254.0 648.8,255.0 646.0,252.0 C643.2,249.0 643.3,241.7 644.0,238.0 Z"/></clipPath>
<g clip-path="url(#cpDien)">
<path d="M644.0,238.0 C644.7,234.3 644.7,231.7 650.0,230.0 C655.3,228.3 663.3,227.3 676.0,228.0 C688.7,228.7 714.7,230.3 726.0,234.0 C737.3,237.7 739.3,244.3 744.0,250.0 C748.7,255.7 753.3,262.0 754.0,268.0 C754.7,274.0 752.3,282.0 748.0,286.0 C743.7,290.0 735.2,290.3 728.0,292.0 C720.8,293.7 711.3,294.7 705.0,296.0 C698.7,297.3 695.5,298.3 690.0,300.0 C684.5,301.7 676.0,306.5 672.0,306.0 C668.0,305.5 666.6,301.0 666.0,297.0 C665.4,293.0 668.2,287.5 668.5,282.0 C668.8,276.5 669.2,268.3 668.0,264.0 C666.8,259.7 664.7,258.0 661.0,256.0 C657.3,254.0 648.8,255.0 646.0,252.0 C643.2,249.0 643.3,241.7 644.0,238.0 Z" fill="none" stroke="#9c6a30" stroke-width="7" filter="url(#blur2)" opacity="0.8"/>
<radialGradient id="gSep" cx="660" cy="244" r="14" gradientUnits="userSpaceOnUse"><stop offset="0" stop-color="#d9aa66"/><stop offset="1" stop-color="#b27b3c"/></radialGradient>
<path d="M644.0,236.0 C646.7,232.5 654.3,232.0 660.0,231.0 C665.7,230.0 676.8,228.3 678.0,230.0 C679.2,231.7 669.0,237.3 667.0,241.0 C665.0,244.7 668.5,249.3 666.0,252.0 C663.5,254.7 655.7,257.0 652.0,257.0 C648.3,257.0 645.3,255.5 644.0,252.0 C642.7,248.5 641.3,239.5 644.0,236.0 Z" fill="url(#gSep)" stroke="none" stroke-width="0" />
<radialGradient id="gThal" cx="705" cy="272" r="32" gradientUnits="userSpaceOnUse"><stop offset="0" stop-color="#ecca8c"/><stop offset="0.6" stop-color="#e0b673" stop-opacity="0.7"/><stop offset="1" stop-color="#d4a460" stop-opacity="0"/></radialGradient>
<ellipse cx="705" cy="272" rx="34" ry="26" fill="url(#gThal)"/>
<path d="M678.0,256.0 C678.8,254.8 693.3,251.3 700.0,251.0 C706.7,250.7 713.0,251.2 718.0,254.0 C723.0,256.8 727.5,263.7 730.0,268.0 C732.5,272.3 734.0,278.3 733.0,280.0 C732.0,281.7 727.5,281.0 724.0,278.0 C720.5,275.0 716.8,265.3 712.0,262.0 C707.2,258.7 700.7,259.0 695.0,258.0 C689.3,257.0 677.2,257.2 678.0,256.0 Z" fill="#a46a35" stroke="none" stroke-width="0" filter="url(#blur1)" opacity="0.6"/>
</g>
<path d="M676.7,244.7 C679.4,243.4 684.5,242.1 690.0,241.4 C695.5,240.7 704.0,240.1 710.0,240.7 C716.0,241.2 722.0,242.7 726.0,244.7 C730.0,246.7 732.2,249.6 734.0,252.7 C735.8,255.8 736.2,259.8 736.8,263.4 C737.4,266.9 738.0,271.9 737.5,274.0 C737.0,276.1 735.0,276.9 734.0,276.0 C733.0,275.1 732.7,271.7 731.4,268.7 C730.1,265.7 728.5,260.8 726.0,258.0 C723.5,255.2 721.6,253.3 716.7,252.0 C711.8,250.7 703.4,249.9 696.7,250.0 C690.0,250.1 680.5,252.7 676.7,252.5 C672.9,252.3 674.0,250.3 674.0,249.0 C674.0,247.7 674.0,246.0 676.7,244.7 Z" fill="#c5533d" stroke="#8f3320" stroke-width="0.6" />
<path d="M680.0,246.0 C683.3,245.6 693.7,243.7 700.0,243.5 C706.3,243.3 713.2,243.6 718.0,245.0 C722.8,246.4 726.2,249.2 729.0,252.0 C731.8,254.8 733.4,258.7 734.5,262.0 C735.6,265.3 735.3,270.3 735.5,272.0" fill="none" stroke="#da8a70" stroke-width="1.3" opacity="0.8"/>
<path d="M680.0,249.5 C683.3,249.1 693.7,247.2 700.0,247.0 C706.3,246.8 713.3,247.0 718.0,248.5 C722.7,250.0 725.5,253.1 728.0,256.0 C730.5,258.9 731.9,263.0 733.0,266.0 C734.1,269.0 734.2,272.7 734.5,274.0" fill="none" stroke="#9b3422" stroke-width="0.9" opacity="0.7"/>
<path d="M624.0,250.0 C624.1,248.2 623.5,238.9 626.0,236.0 C628.5,233.1 639.9,226.8 645.0,225.0 C650.1,223.2 663.1,221.6 670.0,221.0 C676.9,220.4 697.9,219.7 704.0,220.0 C710.1,220.3 718.1,222.7 722.0,224.0 C725.9,225.3 734.0,228.6 737.0,231.0 C740.0,233.4 745.7,241.6 748.0,245.0 C750.3,248.4 755.2,256.6 757.0,260.0 C758.8,263.4 762.6,271.2 763.0,274.0 C763.4,276.8 761.3,282.4 760.0,284.0 C758.7,285.6 754.3,287.5 752.0,288.0 C749.7,288.5 741.6,288.6 740.0,288.0 C738.4,287.4 738.5,284.4 738.0,283.0 C737.5,281.6 736.5,278.4 736.0,276.0 C735.5,273.6 735.2,265.1 734.0,262.0 C732.8,258.9 727.9,251.2 726.0,249.0 C724.1,246.8 721.0,244.2 718.0,243.0 C715.0,241.8 704.0,238.9 700.0,239.0 C696.0,239.1 686.6,242.7 684.0,244.0 C681.4,245.3 678.9,248.6 678.0,250.0 C677.1,251.4 676.6,254.9 676.0,256.0 C675.4,257.1 673.9,259.1 673.0,259.5 C672.1,259.9 669.4,259.8 668.0,259.5 C666.6,259.2 663.5,257.4 661.0,256.8 C658.5,256.2 650.3,255.2 646.7,254.5 C643.1,253.8 632.5,250.9 630.0,250.5 C627.5,250.1 625.7,251.1 625.0,251.0 C624.3,250.9 623.9,251.8 624.0,250.0 Z" fill="#f7df9f" stroke="#c29a58" stroke-width="0.8" />
<clipPath id="cpCC"><path d="M624.0,250.0 C624.1,248.2 623.5,238.9 626.0,236.0 C628.5,233.1 639.9,226.8 645.0,225.0 C650.1,223.2 663.1,221.6 670.0,221.0 C676.9,220.4 697.9,219.7 704.0,220.0 C710.1,220.3 718.1,222.7 722.0,224.0 C725.9,225.3 734.0,228.6 737.0,231.0 C740.0,233.4 745.7,241.6 748.0,245.0 C750.3,248.4 755.2,256.6 757.0,260.0 C758.8,263.4 762.6,271.2 763.0,274.0 C763.4,276.8 761.3,282.4 760.0,284.0 C758.7,285.6 754.3,287.5 752.0,288.0 C749.7,288.5 741.6,288.6 740.0,288.0 C738.4,287.4 738.5,284.4 738.0,283.0 C737.5,281.6 736.5,278.4 736.0,276.0 C735.5,273.6 735.2,265.1 734.0,262.0 C732.8,258.9 727.9,251.2 726.0,249.0 C724.1,246.8 721.0,244.2 718.0,243.0 C715.0,241.8 704.0,238.9 700.0,239.0 C696.0,239.1 686.6,242.7 684.0,244.0 C681.4,245.3 678.9,248.6 678.0,250.0 C677.1,251.4 676.6,254.9 676.0,256.0 C675.4,257.1 673.9,259.1 673.0,259.5 C672.1,259.9 669.4,259.8 668.0,259.5 C666.6,259.2 663.5,257.4 661.0,256.8 C658.5,256.2 650.3,255.2 646.7,254.5 C643.1,253.8 632.5,250.9 630.0,250.5 C627.5,250.1 625.7,251.1 625.0,251.0 C624.3,250.9 623.9,251.8 624.0,250.0 Z"/></clipPath>
<g clip-path="url(#cpCC)">
<line x1="666.0" y1="272.0" x2="630.0" y2="272.0" stroke="#e6c07a" stroke-width="0.6" opacity="0.55"/>
<line x1="666.2" y1="269.4" x2="630.3" y2="266.7" stroke="#e6c07a" stroke-width="0.6" opacity="0.55"/>
<line x1="666.6" y1="266.8" x2="631.2" y2="261.5" stroke="#e6c07a" stroke-width="0.6" opacity="0.55"/>
<line x1="667.4" y1="264.2" x2="632.8" y2="256.4" stroke="#e6c07a" stroke-width="0.6" opacity="0.55"/>
<line x1="668.4" y1="261.7" x2="634.9" y2="251.4" stroke="#e6c07a" stroke-width="0.6" opacity="0.55"/>
<line x1="669.7" y1="259.3" x2="637.6" y2="246.6" stroke="#e6c07a" stroke-width="0.6" opacity="0.55"/>
<line x1="671.3" y1="257.0" x2="640.9" y2="242.0" stroke="#e6c07a" stroke-width="0.6" opacity="0.55"/>
<line x1="673.1" y1="254.8" x2="644.7" y2="237.7" stroke="#e6c07a" stroke-width="0.6" opacity="0.55"/>
<line x1="675.2" y1="252.8" x2="649.0" y2="233.7" stroke="#e6c07a" stroke-width="0.6" opacity="0.55"/>
<line x1="677.5" y1="251.0" x2="653.7" y2="230.0" stroke="#e6c07a" stroke-width="0.6" opacity="0.55"/>
<line x1="680.0" y1="249.3" x2="658.9" y2="226.7" stroke="#e6c07a" stroke-width="0.6" opacity="0.55"/>
<line x1="682.7" y1="247.9" x2="664.4" y2="223.8" stroke="#e6c07a" stroke-width="0.6" opacity="0.55"/>
<line x1="685.5" y1="246.7" x2="670.2" y2="221.3" stroke="#e6c07a" stroke-width="0.6" opacity="0.55"/>
<line x1="688.5" y1="245.7" x2="676.3" y2="219.3" stroke="#e6c07a" stroke-width="0.6" opacity="0.55"/>
<line x1="691.5" y1="244.9" x2="682.6" y2="217.8" stroke="#e6c07a" stroke-width="0.6" opacity="0.55"/>
<line x1="694.7" y1="244.3" x2="689.0" y2="216.7" stroke="#e6c07a" stroke-width="0.6" opacity="0.55"/>
<line x1="697.9" y1="244.1" x2="695.6" y2="216.1" stroke="#e6c07a" stroke-width="0.6" opacity="0.55"/>
<line x1="701.1" y1="244.0" x2="702.2" y2="216.0" stroke="#e6c07a" stroke-width="0.6" opacity="0.55"/>
<line x1="704.3" y1="244.2" x2="708.8" y2="216.4" stroke="#e6c07a" stroke-width="0.6" opacity="0.55"/>
<line x1="707.4" y1="244.7" x2="715.3" y2="217.3" stroke="#e6c07a" stroke-width="0.6" opacity="0.55"/>
<line x1="710.5" y1="245.4" x2="721.6" y2="218.7" stroke="#e6c07a" stroke-width="0.6" opacity="0.55"/>
<line x1="713.5" y1="246.3" x2="727.8" y2="220.6" stroke="#e6c07a" stroke-width="0.6" opacity="0.55"/>
<line x1="716.4" y1="247.5" x2="733.7" y2="222.9" stroke="#e6c07a" stroke-width="0.6" opacity="0.55"/>
<line x1="719.1" y1="248.8" x2="739.3" y2="225.7" stroke="#e6c07a" stroke-width="0.6" opacity="0.55"/>
<line x1="721.7" y1="250.4" x2="744.6" y2="228.9" stroke="#e6c07a" stroke-width="0.6" opacity="0.55"/>
<line x1="724.0" y1="252.2" x2="749.5" y2="232.4" stroke="#e6c07a" stroke-width="0.6" opacity="0.55"/>
<line x1="726.2" y1="254.2" x2="753.9" y2="236.3" stroke="#e6c07a" stroke-width="0.6" opacity="0.55"/>
<line x1="728.1" y1="256.3" x2="757.9" y2="240.5" stroke="#e6c07a" stroke-width="0.6" opacity="0.55"/>
<line x1="729.8" y1="258.5" x2="761.3" y2="245.0" stroke="#e6c07a" stroke-width="0.6" opacity="0.55"/>
<line x1="731.2" y1="260.9" x2="764.2" y2="249.8" stroke="#e6c07a" stroke-width="0.6" opacity="0.55"/>
<line x1="732.3" y1="263.3" x2="766.6" y2="254.7" stroke="#e6c07a" stroke-width="0.6" opacity="0.55"/>
<line x1="733.2" y1="265.9" x2="768.3" y2="259.8" stroke="#e6c07a" stroke-width="0.6" opacity="0.55"/>
<line x1="733.7" y1="268.5" x2="769.4" y2="265.0" stroke="#e6c07a" stroke-width="0.6" opacity="0.55"/>
<line x1="734.0" y1="271.1" x2="770.0" y2="270.2" stroke="#e6c07a" stroke-width="0.6" opacity="0.55"/>
</g>
<radialGradient id="gSep2" cx="660" cy="246" r="16" gradientUnits="userSpaceOnUse"><stop offset="0" stop-color="#dcae6c"/><stop offset="0.7" stop-color="#c48f4c"/><stop offset="1" stop-color="#9c6a34"/></radialGradient>
<path d="M647.8,239.5 C649.3,237.9 653.9,236.0 657.8,235.0 C661.7,234.0 675.2,231.2 676.8,231.7 C678.4,232.2 671.2,236.3 670.0,238.4 C668.8,240.5 668.5,245.2 667.9,247.3 C667.3,249.4 667.5,253.3 665.6,254.0 C663.7,254.7 655.9,253.7 653.4,252.8 C650.9,251.9 647.4,249.1 646.7,247.3 C646.0,245.5 646.3,241.1 647.8,239.5 Z" fill="url(#gSep2)" stroke="#b8894e" stroke-width="0.6" />
<path d="M672.0,259.0 C671.8,261.8 671.0,270.8 670.5,276.0 C670.0,281.2 669.4,285.8 669.0,290.0 C668.6,294.2 668.2,299.2 668.0,301.0" fill="none" stroke="#f5dc9c" stroke-width="4.5" stroke-linecap="round"/>
<ellipse cx="669.5" cy="286" rx="3.5" ry="4" fill="#f5dc9c"/>
<ellipse cx="669" cy="304" rx="7" ry="5" fill="#f5dc9c" stroke="#c29a58" stroke-width="0.6"/>
<path d="M674.0,303.0 C675.7,301.2 680.7,295.2 684.0,292.0 C687.3,288.8 690.5,286.0 694.0,284.0 C697.5,282.0 703.2,280.7 705.0,280.0" fill="none" stroke="#f5dc9c" stroke-width="3.5" stroke-linecap="round"/>
<ellipse cx="695.5" cy="264" rx="7.5" ry="6" fill="#f6dfa2" stroke="#c29a58" stroke-width="0.6"/>
<path d="M722.0,276.0 C723.3,273.0 728.7,271.7 732.0,272.0 C735.3,272.3 740.0,275.5 742.0,278.0 C744.0,280.5 745.0,284.7 744.0,287.0 C743.0,289.3 739.3,291.5 736.0,292.0 C732.7,292.5 726.3,292.7 724.0,290.0 C721.7,287.3 720.7,279.0 722.0,276.0 Z" fill="#f5dc9c" stroke="#c29a58" stroke-width="0.6" />
<clipPath id="cpCb"><path d="M742.0,352.0 C745.7,346.0 752.0,336.0 760.0,330.0 C768.0,324.0 782.3,318.0 790.0,316.0 C797.7,314.0 801.7,315.7 806.0,318.0 C810.3,320.3 813.8,325.2 816.0,330.0 C818.2,334.8 819.7,341.5 819.0,347.0 C818.3,352.5 815.8,358.2 812.0,363.0 C808.2,367.8 802.0,372.5 796.0,376.0 C790.0,379.5 782.7,382.2 776.0,384.0 C769.3,385.8 761.5,387.3 756.0,387.0 C750.5,386.7 746.0,385.5 743.0,382.0 C740.0,378.5 738.2,371.0 738.0,366.0 C737.8,361.0 738.3,358.0 742.0,352.0 Z"/></clipPath>
<path d="M742.0,352.0 C745.7,346.0 752.0,336.0 760.0,330.0 C768.0,324.0 782.3,318.0 790.0,316.0 C797.7,314.0 801.7,315.7 806.0,318.0 C810.3,320.3 813.8,325.2 816.0,330.0 C818.2,334.8 819.7,341.5 819.0,347.0 C818.3,352.5 815.8,358.2 812.0,363.0 C808.2,367.8 802.0,372.5 796.0,376.0 C790.0,379.5 782.7,382.2 776.0,384.0 C769.3,385.8 761.5,387.3 756.0,387.0 C750.5,386.7 746.0,385.5 743.0,382.0 C740.0,378.5 738.2,371.0 738.0,366.0 C737.8,361.0 738.3,358.0 742.0,352.0 Z" fill="#a95b2d" stroke="none" stroke-width="0" />
<g clip-path="url(#cpCb)">
<ellipse cx="768" cy="334" rx="31.5" ry="28.5" fill="none" stroke="#6a3010" stroke-width="0.9" opacity="0.7"/>
<ellipse cx="768" cy="334" rx="34.2" ry="31.0" fill="none" stroke="#6a3010" stroke-width="0.9" opacity="0.7"/>
<ellipse cx="768" cy="334" rx="37.0" ry="33.4" fill="none" stroke="#6a3010" stroke-width="0.9" opacity="0.7"/>
<ellipse cx="768" cy="334" rx="39.7" ry="35.9" fill="none" stroke="#6a3010" stroke-width="0.9" opacity="0.7"/>
<ellipse cx="768" cy="334" rx="42.4" ry="38.4" fill="none" stroke="#6a3010" stroke-width="0.9" opacity="0.7"/>
<ellipse cx="768" cy="334" rx="45.1" ry="40.9" fill="none" stroke="#6a3010" stroke-width="0.9" opacity="0.7"/>
<ellipse cx="768" cy="334" rx="47.9" ry="43.3" fill="none" stroke="#6a3010" stroke-width="0.9" opacity="0.7"/>
<ellipse cx="768" cy="334" rx="50.6" ry="45.8" fill="none" stroke="#6a3010" stroke-width="0.9" opacity="0.7"/>
<ellipse cx="768" cy="334" rx="53.3" ry="48.3" fill="none" stroke="#6a3010" stroke-width="0.9" opacity="0.7"/>
<ellipse cx="768" cy="334" rx="56.1" ry="50.7" fill="none" stroke="#6a3010" stroke-width="0.9" opacity="0.7"/>
<ellipse cx="768" cy="334" rx="58.8" ry="53.2" fill="none" stroke="#6a3010" stroke-width="0.9" opacity="0.7"/>
<ellipse cx="768" cy="334" rx="61.5" ry="55.7" fill="none" stroke="#6a3010" stroke-width="0.9" opacity="0.7"/>
<ellipse cx="768" cy="334" rx="64.3" ry="58.1" fill="none" stroke="#6a3010" stroke-width="0.9" opacity="0.7"/>
<ellipse cx="768" cy="334" rx="67.0" ry="60.6" fill="none" stroke="#6a3010" stroke-width="0.9" opacity="0.7"/>
<ellipse cx="768" cy="334" rx="69.7" ry="63.1" fill="none" stroke="#6a3010" stroke-width="0.9" opacity="0.7"/>
<ellipse cx="768" cy="334" rx="72.5" ry="65.5" fill="none" stroke="#6a3010" stroke-width="0.9" opacity="0.7"/>
<ellipse cx="768" cy="334" rx="32.9" ry="29.7" fill="none" stroke="#c98050" stroke-width="0.7" opacity="0.5"/>
<ellipse cx="768" cy="334" rx="35.6" ry="32.2" fill="none" stroke="#c98050" stroke-width="0.7" opacity="0.5"/>
<ellipse cx="768" cy="334" rx="38.3" ry="34.7" fill="none" stroke="#c98050" stroke-width="0.7" opacity="0.5"/>
<ellipse cx="768" cy="334" rx="41.1" ry="37.1" fill="none" stroke="#c98050" stroke-width="0.7" opacity="0.5"/>
<ellipse cx="768" cy="334" rx="43.8" ry="39.6" fill="none" stroke="#c98050" stroke-width="0.7" opacity="0.5"/>
<ellipse cx="768" cy="334" rx="46.5" ry="42.1" fill="none" stroke="#c98050" stroke-width="0.7" opacity="0.5"/>
<ellipse cx="768" cy="334" rx="49.2" ry="44.6" fill="none" stroke="#c98050" stroke-width="0.7" opacity="0.5"/>
<ellipse cx="768" cy="334" rx="52.0" ry="47.0" fill="none" stroke="#c98050" stroke-width="0.7" opacity="0.5"/>
<ellipse cx="768" cy="334" rx="54.7" ry="49.5" fill="none" stroke="#c98050" stroke-width="0.7" opacity="0.5"/>
<ellipse cx="768" cy="334" rx="57.4" ry="52.0" fill="none" stroke="#c98050" stroke-width="0.7" opacity="0.5"/>
<ellipse cx="768" cy="334" rx="60.2" ry="54.4" fill="none" stroke="#c98050" stroke-width="0.7" opacity="0.5"/>
<ellipse cx="768" cy="334" rx="62.9" ry="56.9" fill="none" stroke="#c98050" stroke-width="0.7" opacity="0.5"/>
<ellipse cx="768" cy="334" rx="65.6" ry="59.4" fill="none" stroke="#c98050" stroke-width="0.7" opacity="0.5"/>
<ellipse cx="768" cy="334" rx="68.4" ry="61.8" fill="none" stroke="#c98050" stroke-width="0.7" opacity="0.5"/>
<ellipse cx="768" cy="334" rx="71.1" ry="64.3" fill="none" stroke="#c98050" stroke-width="0.7" opacity="0.5"/>
<ellipse cx="768" cy="334" rx="73.8" ry="66.8" fill="none" stroke="#c98050" stroke-width="0.7" opacity="0.5"/>
<path d="M742.0,352.0 C745.7,346.0 752.0,336.0 760.0,330.0 C768.0,324.0 782.3,318.0 790.0,316.0 C797.7,314.0 801.7,315.7 806.0,318.0 C810.3,320.3 813.8,325.2 816.0,330.0 C818.2,334.8 819.7,341.5 819.0,347.0 C818.3,352.5 815.8,358.2 812.0,363.0 C808.2,367.8 802.0,372.5 796.0,376.0 C790.0,379.5 782.7,382.2 776.0,384.0 C769.3,385.8 761.5,387.3 756.0,387.0 C750.5,386.7 746.0,385.5 743.0,382.0 C740.0,378.5 738.2,371.0 738.0,366.0 C737.8,361.0 738.3,358.0 742.0,352.0 Z" fill="none" stroke="#7a3a15" stroke-width="5" filter="url(#blur2)" opacity="0.55"/>
</g>
<path d="M733.0,286.0 C735.3,283.3 741.8,283.0 745.0,284.0 C748.2,285.0 751.5,288.3 752.0,292.0 C752.5,295.7 750.3,302.7 748.0,306.0 C745.7,309.3 740.8,313.0 738.0,312.0 C735.2,311.0 731.8,304.3 731.0,300.0 C730.2,295.7 730.7,288.7 733.0,286.0 Z" fill="#9c5a45" stroke="none" stroke-width="0" />
<path d="M670.0,302.0 C671.0,298.2 679.2,294.2 684.0,291.0 C688.8,287.8 696.0,281.8 699.0,283.0 C702.0,284.2 703.2,293.2 702.0,298.0 C700.8,302.8 696.0,309.3 692.0,312.0 C688.0,314.7 681.7,315.7 678.0,314.0 C674.3,312.3 669.0,305.8 670.0,302.0 Z" fill="#9a6535" stroke="none" stroke-width="0" filter="url(#blur2)" opacity="0.75"/>
<path d="M722.0,284.0 C724.3,282.3 734.0,281.0 738.0,282.0 C742.0,283.0 745.0,286.0 746.0,290.0 C747.0,294.0 745.2,301.3 744.0,306.0 C742.8,310.7 738.7,313.0 739.0,318.0 C739.3,323.0 745.5,330.3 746.0,336.0 C746.5,341.7 743.0,342.3 742.0,352.0 C741.0,361.7 740.0,385.2 740.0,394.0 C740.0,402.8 743.7,403.2 742.0,405.0 C740.3,406.8 732.5,414.2 730.0,405.0 C727.5,395.8 727.3,365.8 727.0,350.0 C726.7,334.2 728.5,319.7 728.0,310.0 C727.5,300.3 725.0,296.3 724.0,292.0 C723.0,287.7 719.7,285.7 722.0,284.0 Z" fill="#efd69e" stroke="#b48c55" stroke-width="0.7" />
<path d="M690.0,300.0 C691.4,295.8 695.2,287.5 698.0,284.0 C700.8,280.5 703.8,279.5 707.0,279.0 C710.2,278.5 713.9,279.2 717.0,281.0 C720.1,282.8 723.6,284.0 725.5,290.0 C727.4,296.0 727.7,310.3 728.6,317.0 C729.5,323.7 730.1,322.5 731.0,330.0 C731.9,337.5 733.0,351.3 734.0,362.0 C735.0,372.7 736.3,386.8 737.0,394.0 C737.7,401.2 741.5,403.2 738.0,405.0 C734.5,406.8 720.0,408.5 716.0,405.0 C712.0,401.5 714.7,389.8 714.0,384.0 C713.3,378.2 712.7,374.0 712.0,370.0 C711.3,366.0 711.3,362.7 710.0,360.0 C708.7,357.3 706.3,356.7 704.0,354.0 C701.7,351.3 698.3,347.7 696.0,344.0 C693.7,340.3 691.3,336.0 690.0,332.0 C688.7,328.0 688.1,323.8 688.0,320.0 C687.9,316.2 689.3,312.3 689.6,309.0 C689.9,305.7 688.6,304.2 690.0,300.0 Z" fill="#ecd196" stroke="#a47a44" stroke-width="1.3" />
<clipPath id="cpStem"><path d="M690.0,300.0 C691.4,295.8 695.2,287.5 698.0,284.0 C700.8,280.5 703.8,279.5 707.0,279.0 C710.2,278.5 713.9,279.2 717.0,281.0 C720.1,282.8 723.6,284.0 725.5,290.0 C727.4,296.0 727.7,310.3 728.6,317.0 C729.5,323.7 730.1,322.5 731.0,330.0 C731.9,337.5 733.0,351.3 734.0,362.0 C735.0,372.7 736.3,386.8 737.0,394.0 C737.7,401.2 741.5,403.2 738.0,405.0 C734.5,406.8 720.0,408.5 716.0,405.0 C712.0,401.5 714.7,389.8 714.0,384.0 C713.3,378.2 712.7,374.0 712.0,370.0 C711.3,366.0 711.3,362.7 710.0,360.0 C708.7,357.3 706.3,356.7 704.0,354.0 C701.7,351.3 698.3,347.7 696.0,344.0 C693.7,340.3 691.3,336.0 690.0,332.0 C688.7,328.0 688.1,323.8 688.0,320.0 C687.9,316.2 689.3,312.3 689.6,309.0 C689.9,305.7 688.6,304.2 690.0,300.0 Z"/></clipPath>
<g clip-path="url(#cpStem)">
<path d="M690.0,303.0 C692.3,297.3 699.0,296.0 704.0,296.0 C709.0,296.0 716.7,298.2 720.0,303.0 C723.3,307.8 724.3,318.8 724.0,325.0 C723.7,331.2 722.0,337.2 718.0,340.0 C714.0,342.8 704.7,343.7 700.0,342.0 C695.3,340.3 691.7,336.5 690.0,330.0 C688.3,323.5 687.7,308.7 690.0,303.0 Z" fill="#e3c98e" stroke="none" stroke-width="0" opacity="0.75" filter="url(#blur2)"/>
<ellipse cx="711" cy="300" rx="6" ry="7" fill="#e6cd96" opacity="0.8" filter="url(#blur1)"/>
<path d="M700.0,346.0 C701.3,347.0 706.0,349.3 708.0,352.0 C710.0,354.7 711.0,356.7 712.0,362.0 C713.0,367.3 713.3,378.3 714.0,384.0 C714.7,389.7 715.7,394.0 716.0,396.0" fill="none" stroke="#c9a56a" stroke-width="2.5" opacity="0.6" filter="url(#blur1)"/>
</g>
<path d="M724.0,291.0 C724.8,297.5 727.5,318.2 729.0,330.0 C730.5,341.8 731.7,351.3 733.0,362.0 C734.3,372.7 736.3,388.7 737.0,394.0" fill="none" stroke="#a47a45" stroke-width="1" />
<path d="M668.0,304.0 C669.8,302.2 675.7,296.0 679.0,293.0 C682.3,290.0 685.0,288.0 688.0,286.0 C691.0,284.0 693.8,282.2 697.0,281.0 C700.2,279.8 705.3,279.3 707.0,279.0" fill="none" stroke="#f5dc9c" stroke-width="3.5" stroke-linecap="round"/>
<path d="M717.0,276.0 C718.0,273.5 724.2,272.0 728.0,272.0 C731.8,272.0 737.3,274.0 740.0,276.0 C742.7,278.0 744.7,282.0 744.0,284.0 C743.3,286.0 739.7,287.5 736.0,288.0 C732.3,288.5 725.2,289.0 722.0,287.0 C718.8,285.0 716.0,278.5 717.0,276.0 Z" fill="#f5dc9c" stroke="#c29a58" stroke-width="0.6" />
<path d="M737.1,307.5 L737.5,306.7 L738.0,305.9 L738.6,305.2 L739.3,304.5 L740.0,303.8 L740.7,303.1 L741.5,302.5 L741.9,301.4 L742.4,300.3 L742.9,299.2 L743.4,298.2 L744.0,297.3 L744.6,296.4 L745.2,295.5 L745.9,294.7 L746.6,293.9 L747.4,293.2 L748.3,292.6 L749.1,292.1 L750.1,291.8 L751.1,291.5 L752.1,291.3 L753.2,291.3 L754.0,291.2 L754.9,290.8 L755.8,290.5 L756.8,290.3 L757.9,290.1 L759.0,290.0 L760.1,289.9 L761.3,290.0 L762.4,290.2 L763.6,290.5 L764.7,290.9 L765.8,291.4 L766.8,291.9 L767.8,292.5 L768.6,293.1 L769.6,293.8 L770.6,294.1 L771.6,294.3 L772.6,294.5 L773.6,294.8 L774.6,295.3 L775.5,295.7 L776.4,296.3 L777.3,297.0 L778.1,297.7 L778.8,298.5 L779.5,299.4 L780.1,300.2 L780.7,301.2 L781.2,302.3 L781.7,303.3 L782.6,303.9 L783.4,304.4 L784.2,305.0 L785.0,305.7 L785.8,306.4 L786.5,307.2 L787.2,308.0 L787.9,308.8 L788.5,309.6 L789.1,310.5 L789.7,311.3 L790.4,312.1 L791.0,312.9 L791.6,313.7 L792.8,314.2 L793.9,314.7 L795.0,315.3 L796.1,315.8 L797.0,316.5 L797.8,317.1 L798.5,317.8 L799.2,318.8 L799.8,319.8 L800.2,320.8 L800.5,321.8 L800.7,322.9 L800.7,324.0 L800.6,325.1 L800.4,326.3 L800.0,327.5 L800.0,328.4 L800.2,329.4 L800.4,330.4 L800.5,331.4 L800.6,332.5 L800.6,333.6 L800.5,334.8 L800.3,335.9 L800.0,337.0 L799.6,338.1 L799.2,339.2 L798.6,340.2 L798.0,341.1 L797.4,341.9 L796.7,342.7 L796.0,343.5 L795.4,344.3 L795.1,345.3 L794.9,346.3 L794.5,347.3 L794.2,348.2 L793.7,349.2 L793.2,350.1 L792.6,350.9 L792.0,351.7 L791.3,352.5 L790.5,353.2 L789.7,353.8 L788.7,354.4 L787.7,354.9 L786.7,355.4 L785.6,355.8 L784.5,356.2 L783.8,357.0 L783.1,357.8 L782.3,358.6 L781.5,359.4 L780.6,360.0 L779.7,360.7 L778.8,361.2 L777.8,361.7 L776.7,362.1 L775.7,362.4 L774.6,362.6 L773.4,362.8 L772.3,362.9 L771.2,362.9 L770.1,362.9 L769.1,363.4 L768.1,363.9 L767.1,364.4 L766.1,364.7 L765.0,364.9 L764.1,365.1 L763.0,365.1 L762.0,365.0 L761.0,364.7 L759.9,364.4 L758.9,364.0 L757.9,363.5 L756.9,362.9 L756.0,362.2 L755.0,361.6 L754.1,361.1 L753.1,361.0 L752.2,360.8 L751.2,360.7 L750.2,360.4 L749.1,360.1 L748.1,359.6 L747.2,359.1 L746.3,358.4 L745.5,357.7 L744.7,356.8 L744.0,355.9 L743.5,355.0 L743.0,354.0 L742.6,353.0 L742.0,352.2 L741.3,351.6 L740.6,350.9 L739.9,350.1 L739.4,349.2 L738.9,348.3 L738.5,347.2 L738.3,346.1 L738.1,345.0 L738.2,343.9 L738.3,342.8 L738.5,341.8 L738.8,340.9 L739.5,339.8 L740.5,339.0 L741.7,338.3 L742.9,337.8 L744.0,337.2 L745.1,336.6 L745.9,335.8 L745.9,335.1 L745.4,334.6 L744.6,334.0 L743.8,333.3 L743.0,332.5 L742.3,331.7 L741.7,330.8 L741.1,329.8 L740.7,329.0 L740.3,328.1 L739.3,327.3 L738.3,326.4 L737.5,325.6 L736.7,324.4 L736.1,323.3 L735.7,322.2 L735.5,321.0 L735.5,320.0 L735.6,319.0 L735.8,318.0 L736.0,317.1 L736.3,316.2 L736.4,315.2 L736.2,314.1 L736.0,312.9 L736.0,311.8 L736.1,310.8 L736.3,309.7 L736.6,308.6 Z" fill="#e59d6c" stroke="none" stroke-width="0" />
<clipPath id="cpAv"><path d="M737.1,307.5 L737.5,306.7 L738.0,305.9 L738.6,305.2 L739.3,304.5 L740.0,303.8 L740.7,303.1 L741.5,302.5 L741.9,301.4 L742.4,300.3 L742.9,299.2 L743.4,298.2 L744.0,297.3 L744.6,296.4 L745.2,295.5 L745.9,294.7 L746.6,293.9 L747.4,293.2 L748.3,292.6 L749.1,292.1 L750.1,291.8 L751.1,291.5 L752.1,291.3 L753.2,291.3 L754.0,291.2 L754.9,290.8 L755.8,290.5 L756.8,290.3 L757.9,290.1 L759.0,290.0 L760.1,289.9 L761.3,290.0 L762.4,290.2 L763.6,290.5 L764.7,290.9 L765.8,291.4 L766.8,291.9 L767.8,292.5 L768.6,293.1 L769.6,293.8 L770.6,294.1 L771.6,294.3 L772.6,294.5 L773.6,294.8 L774.6,295.3 L775.5,295.7 L776.4,296.3 L777.3,297.0 L778.1,297.7 L778.8,298.5 L779.5,299.4 L780.1,300.2 L780.7,301.2 L781.2,302.3 L781.7,303.3 L782.6,303.9 L783.4,304.4 L784.2,305.0 L785.0,305.7 L785.8,306.4 L786.5,307.2 L787.2,308.0 L787.9,308.8 L788.5,309.6 L789.1,310.5 L789.7,311.3 L790.4,312.1 L791.0,312.9 L791.6,313.7 L792.8,314.2 L793.9,314.7 L795.0,315.3 L796.1,315.8 L797.0,316.5 L797.8,317.1 L798.5,317.8 L799.2,318.8 L799.8,319.8 L800.2,320.8 L800.5,321.8 L800.7,322.9 L800.7,324.0 L800.6,325.1 L800.4,326.3 L800.0,327.5 L800.0,328.4 L800.2,329.4 L800.4,330.4 L800.5,331.4 L800.6,332.5 L800.6,333.6 L800.5,334.8 L800.3,335.9 L800.0,337.0 L799.6,338.1 L799.2,339.2 L798.6,340.2 L798.0,341.1 L797.4,341.9 L796.7,342.7 L796.0,343.5 L795.4,344.3 L795.1,345.3 L794.9,346.3 L794.5,347.3 L794.2,348.2 L793.7,349.2 L793.2,350.1 L792.6,350.9 L792.0,351.7 L791.3,352.5 L790.5,353.2 L789.7,353.8 L788.7,354.4 L787.7,354.9 L786.7,355.4 L785.6,355.8 L784.5,356.2 L783.8,357.0 L783.1,357.8 L782.3,358.6 L781.5,359.4 L780.6,360.0 L779.7,360.7 L778.8,361.2 L777.8,361.7 L776.7,362.1 L775.7,362.4 L774.6,362.6 L773.4,362.8 L772.3,362.9 L771.2,362.9 L770.1,362.9 L769.1,363.4 L768.1,363.9 L767.1,364.4 L766.1,364.7 L765.0,364.9 L764.1,365.1 L763.0,365.1 L762.0,365.0 L761.0,364.7 L759.9,364.4 L758.9,364.0 L757.9,363.5 L756.9,362.9 L756.0,362.2 L755.0,361.6 L754.1,361.1 L753.1,361.0 L752.2,360.8 L751.2,360.7 L750.2,360.4 L749.1,360.1 L748.1,359.6 L747.2,359.1 L746.3,358.4 L745.5,357.7 L744.7,356.8 L744.0,355.9 L743.5,355.0 L743.0,354.0 L742.6,353.0 L742.0,352.2 L741.3,351.6 L740.6,350.9 L739.9,350.1 L739.4,349.2 L738.9,348.3 L738.5,347.2 L738.3,346.1 L738.1,345.0 L738.2,343.9 L738.3,342.8 L738.5,341.8 L738.8,340.9 L739.5,339.8 L740.5,339.0 L741.7,338.3 L742.9,337.8 L744.0,337.2 L745.1,336.6 L745.9,335.8 L745.9,335.1 L745.4,334.6 L744.6,334.0 L743.8,333.3 L743.0,332.5 L742.3,331.7 L741.7,330.8 L741.1,329.8 L740.7,329.0 L740.3,328.1 L739.3,327.3 L738.3,326.4 L737.5,325.6 L736.7,324.4 L736.1,323.3 L735.7,322.2 L735.5,321.0 L735.5,320.0 L735.6,319.0 L735.8,318.0 L736.0,317.1 L736.3,316.2 L736.4,315.2 L736.2,314.1 L736.0,312.9 L736.0,311.8 L736.1,310.8 L736.3,309.7 L736.6,308.6 Z"/></clipPath>
<g clip-path="url(#cpAv)">
<ellipse cx="737.0" cy="305.2" rx="24" ry="6.3" transform="rotate(-112.0 737.0 305.2)" fill="#f5c9a2" />
<ellipse cx="748.4" cy="303.0" rx="24" ry="6.3" transform="rotate(-91.1 748.4 303.0)" fill="#f5c9a2" />
<ellipse cx="759.8" cy="304.8" rx="24" ry="6.3" transform="rotate(-70.2 759.8 304.8)" fill="#f5c9a2" />
<ellipse cx="769.9" cy="310.3" rx="24" ry="6.3" transform="rotate(-49.3 769.9 310.3)" fill="#f5c9a2" />
<ellipse cx="777.2" cy="318.7" rx="24" ry="6.3" transform="rotate(-28.4 777.2 318.7)" fill="#f5c9a2" />
<ellipse cx="780.7" cy="329.1" rx="24" ry="6.3" transform="rotate(-7.5 780.7 329.1)" fill="#f5c9a2" />
<ellipse cx="780.1" cy="340.0" rx="24" ry="6.3" transform="rotate(13.5 780.1 340.0)" fill="#f5c9a2" />
<ellipse cx="775.4" cy="349.9" rx="24" ry="6.3" transform="rotate(34.4 775.4 349.9)" fill="#f5c9a2" />
<ellipse cx="767.2" cy="357.7" rx="24" ry="6.3" transform="rotate(55.3 767.2 357.7)" fill="#f5c9a2" />
<ellipse cx="756.6" cy="362.1" rx="24" ry="6.3" transform="rotate(76.2 756.6 362.1)" fill="#f5c9a2" />
<ellipse cx="745.0" cy="362.8" rx="24" ry="6.3" transform="rotate(97.1 745.0 362.8)" fill="#f5c9a2" />
<ellipse cx="734.0" cy="359.5" rx="24" ry="6.3" transform="rotate(118.0 734.0 359.5)" fill="#f5c9a2" />
<line x1="747.1" y1="328.4" x2="730.3" y2="290.3" stroke="#fbe7d0" stroke-width="1.8" stroke-linecap="round" opacity="0.95"/>
<line x1="739.6" y1="311.7" x2="741.2" y2="307.5" stroke="#fcecd9" stroke-width="1.1" stroke-linecap="round" opacity="0.85"/>
<line x1="737.4" y1="306.6" x2="733.3" y2="304.7" stroke="#fcecd9" stroke-width="1.1" stroke-linecap="round" opacity="0.85"/>
<line x1="734.4" y1="299.7" x2="736.0" y2="295.5" stroke="#fcecd9" stroke-width="1.1" stroke-linecap="round" opacity="0.85"/>
<line x1="733.1" y1="296.7" x2="729.0" y2="294.8" stroke="#fcecd9" stroke-width="1.1" stroke-linecap="round" opacity="0.85"/>
<line x1="748.9" y1="328.0" x2="748.0" y2="287.0" stroke="#fbe7d0" stroke-width="1.8" stroke-linecap="round" opacity="0.95"/>
<line x1="748.5" y1="310.0" x2="751.5" y2="306.7" stroke="#fcecd9" stroke-width="1.1" stroke-linecap="round" opacity="0.85"/>
<line x1="748.4" y1="304.5" x2="745.3" y2="301.3" stroke="#fcecd9" stroke-width="1.1" stroke-linecap="round" opacity="0.85"/>
<line x1="748.3" y1="297.1" x2="751.3" y2="293.8" stroke="#fcecd9" stroke-width="1.1" stroke-linecap="round" opacity="0.85"/>
<line x1="748.2" y1="293.9" x2="745.1" y2="290.7" stroke="#fcecd9" stroke-width="1.1" stroke-linecap="round" opacity="0.85"/>
<line x1="750.7" y1="328.3" x2="766.0" y2="289.7" stroke="#fbe7d0" stroke-width="1.8" stroke-linecap="round" opacity="0.95"/>
<line x1="757.5" y1="311.4" x2="761.5" y2="309.3" stroke="#fcecd9" stroke-width="1.1" stroke-linecap="round" opacity="0.85"/>
<line x1="759.5" y1="306.2" x2="757.7" y2="302.0" stroke="#fcecd9" stroke-width="1.1" stroke-linecap="round" opacity="0.85"/>
<line x1="762.2" y1="299.2" x2="766.2" y2="297.2" stroke="#fcecd9" stroke-width="1.1" stroke-linecap="round" opacity="0.85"/>
<line x1="763.4" y1="296.2" x2="761.6" y2="292.1" stroke="#fcecd9" stroke-width="1.1" stroke-linecap="round" opacity="0.85"/>
<line x1="752.3" y1="329.2" x2="781.6" y2="298.1" stroke="#fbe7d0" stroke-width="1.8" stroke-linecap="round" opacity="0.95"/>
<line x1="765.3" y1="315.6" x2="769.8" y2="315.1" stroke="#fcecd9" stroke-width="1.1" stroke-linecap="round" opacity="0.85"/>
<line x1="769.2" y1="311.4" x2="769.0" y2="306.9" stroke="#fcecd9" stroke-width="1.1" stroke-linecap="round" opacity="0.85"/>
<line x1="774.4" y1="305.8" x2="778.9" y2="305.3" stroke="#fcecd9" stroke-width="1.1" stroke-linecap="round" opacity="0.85"/>
<line x1="776.7" y1="303.4" x2="776.6" y2="298.9" stroke="#fcecd9" stroke-width="1.1" stroke-linecap="round" opacity="0.85"/>
<line x1="753.4" y1="330.6" x2="793.0" y2="311.1" stroke="#fbe7d0" stroke-width="1.8" stroke-linecap="round" opacity="0.95"/>
<line x1="771.0" y1="322.1" x2="775.4" y2="323.2" stroke="#fcecd9" stroke-width="1.1" stroke-linecap="round" opacity="0.85"/>
<line x1="776.3" y1="319.5" x2="777.7" y2="315.2" stroke="#fcecd9" stroke-width="1.1" stroke-linecap="round" opacity="0.85"/>
<line x1="783.3" y1="316.0" x2="787.7" y2="317.1" stroke="#fcecd9" stroke-width="1.1" stroke-linecap="round" opacity="0.85"/>
<line x1="786.4" y1="314.4" x2="787.8" y2="310.2" stroke="#fcecd9" stroke-width="1.1" stroke-linecap="round" opacity="0.85"/>
<line x1="754.0" y1="332.4" x2="798.6" y2="327.0" stroke="#fbe7d0" stroke-width="1.8" stroke-linecap="round" opacity="0.95"/>
<line x1="773.8" y1="330.0" x2="777.5" y2="332.6" stroke="#fcecd9" stroke-width="1.1" stroke-linecap="round" opacity="0.85"/>
<line x1="779.7" y1="329.3" x2="782.6" y2="325.8" stroke="#fcecd9" stroke-width="1.1" stroke-linecap="round" opacity="0.85"/>
<line x1="787.7" y1="328.3" x2="791.3" y2="331.0" stroke="#fcecd9" stroke-width="1.1" stroke-linecap="round" opacity="0.85"/>
<line x1="791.1" y1="327.9" x2="794.0" y2="324.5" stroke="#fcecd9" stroke-width="1.1" stroke-linecap="round" opacity="0.85"/>
<line x1="753.9" y1="334.2" x2="797.6" y2="343.7" stroke="#fbe7d0" stroke-width="1.8" stroke-linecap="round" opacity="0.95"/>
<line x1="773.3" y1="338.4" x2="775.8" y2="342.1" stroke="#fcecd9" stroke-width="1.1" stroke-linecap="round" opacity="0.85"/>
<line x1="779.1" y1="339.6" x2="783.1" y2="337.4" stroke="#fcecd9" stroke-width="1.1" stroke-linecap="round" opacity="0.85"/>
<line x1="786.9" y1="341.3" x2="789.4" y2="345.1" stroke="#fcecd9" stroke-width="1.1" stroke-linecap="round" opacity="0.85"/>
<line x1="790.3" y1="342.1" x2="794.2" y2="339.9" stroke="#fcecd9" stroke-width="1.1" stroke-linecap="round" opacity="0.85"/>
<line x1="753.1" y1="335.8" x2="790.3" y2="359.0" stroke="#fbe7d0" stroke-width="1.8" stroke-linecap="round" opacity="0.95"/>
<line x1="769.6" y1="346.0" x2="770.6" y2="350.4" stroke="#fcecd9" stroke-width="1.1" stroke-linecap="round" opacity="0.85"/>
<line x1="774.6" y1="349.1" x2="779.0" y2="348.4" stroke="#fcecd9" stroke-width="1.1" stroke-linecap="round" opacity="0.85"/>
<line x1="781.2" y1="353.3" x2="782.2" y2="357.6" stroke="#fcecd9" stroke-width="1.1" stroke-linecap="round" opacity="0.85"/>
<line x1="784.1" y1="355.1" x2="788.5" y2="354.4" stroke="#fcecd9" stroke-width="1.1" stroke-linecap="round" opacity="0.85"/>
<line x1="751.8" y1="337.1" x2="777.5" y2="370.8" stroke="#fbe7d0" stroke-width="1.8" stroke-linecap="round" opacity="0.95"/>
<line x1="763.2" y1="351.9" x2="762.6" y2="356.4" stroke="#fcecd9" stroke-width="1.1" stroke-linecap="round" opacity="0.85"/>
<line x1="766.7" y1="356.4" x2="771.1" y2="357.4" stroke="#fcecd9" stroke-width="1.1" stroke-linecap="round" opacity="0.85"/>
<line x1="771.2" y1="362.5" x2="770.6" y2="366.9" stroke="#fcecd9" stroke-width="1.1" stroke-linecap="round" opacity="0.85"/>
<line x1="773.2" y1="365.1" x2="777.6" y2="366.1" stroke="#fcecd9" stroke-width="1.1" stroke-linecap="round" opacity="0.85"/>
<line x1="750.2" y1="337.9" x2="760.9" y2="377.7" stroke="#fbe7d0" stroke-width="1.8" stroke-linecap="round" opacity="0.95"/>
<line x1="755.0" y1="355.3" x2="752.8" y2="359.3" stroke="#fcecd9" stroke-width="1.1" stroke-linecap="round" opacity="0.85"/>
<line x1="756.4" y1="360.7" x2="760.2" y2="363.2" stroke="#fcecd9" stroke-width="1.1" stroke-linecap="round" opacity="0.85"/>
<line x1="758.3" y1="367.8" x2="756.1" y2="371.8" stroke="#fcecd9" stroke-width="1.1" stroke-linecap="round" opacity="0.85"/>
<line x1="759.2" y1="371.0" x2="762.9" y2="373.4" stroke="#fcecd9" stroke-width="1.1" stroke-linecap="round" opacity="0.85"/>
<line x1="748.4" y1="338.0" x2="742.8" y2="378.6" stroke="#fbe7d0" stroke-width="1.8" stroke-linecap="round" opacity="0.95"/>
<line x1="745.9" y1="355.8" x2="742.5" y2="358.7" stroke="#fcecd9" stroke-width="1.1" stroke-linecap="round" opacity="0.85"/>
<line x1="745.2" y1="361.3" x2="747.8" y2="364.9" stroke="#fcecd9" stroke-width="1.1" stroke-linecap="round" opacity="0.85"/>
<line x1="744.2" y1="368.6" x2="740.7" y2="371.5" stroke="#fcecd9" stroke-width="1.1" stroke-linecap="round" opacity="0.85"/>
<line x1="743.8" y1="371.8" x2="746.4" y2="375.4" stroke="#fcecd9" stroke-width="1.1" stroke-linecap="round" opacity="0.85"/>
<line x1="746.7" y1="337.4" x2="725.5" y2="373.6" stroke="#fbe7d0" stroke-width="1.8" stroke-linecap="round" opacity="0.95"/>
<line x1="737.3" y1="353.3" x2="733.0" y2="354.8" stroke="#fcecd9" stroke-width="1.1" stroke-linecap="round" opacity="0.85"/>
<line x1="734.4" y1="358.2" x2="735.6" y2="362.5" stroke="#fcecd9" stroke-width="1.1" stroke-linecap="round" opacity="0.85"/>
<line x1="730.7" y1="364.7" x2="726.4" y2="366.1" stroke="#fcecd9" stroke-width="1.1" stroke-linecap="round" opacity="0.85"/>
<line x1="729.0" y1="367.5" x2="730.2" y2="371.9" stroke="#fcecd9" stroke-width="1.1" stroke-linecap="round" opacity="0.85"/>
<path d="M744.0,334.0 C746.0,333.5 751.7,332.0 756.0,331.0 C760.3,330.0 765.3,328.3 770.0,328.0 C774.7,327.7 781.7,328.8 784.0,329.0" fill="none" stroke="#fdf1e4" stroke-width="3.2" stroke-linecap="round"/>
<path d="M737.1,307.5 L737.5,306.7 L738.0,305.9 L738.6,305.2 L739.3,304.5 L740.0,303.8 L740.7,303.1 L741.5,302.5 L741.9,301.4 L742.4,300.3 L742.9,299.2 L743.4,298.2 L744.0,297.3 L744.6,296.4 L745.2,295.5 L745.9,294.7 L746.6,293.9 L747.4,293.2 L748.3,292.6 L749.1,292.1 L750.1,291.8 L751.1,291.5 L752.1,291.3 L753.2,291.3 L754.0,291.2 L754.9,290.8 L755.8,290.5 L756.8,290.3 L757.9,290.1 L759.0,290.0 L760.1,289.9 L761.3,290.0 L762.4,290.2 L763.6,290.5 L764.7,290.9 L765.8,291.4 L766.8,291.9 L767.8,292.5 L768.6,293.1 L769.6,293.8 L770.6,294.1 L771.6,294.3 L772.6,294.5 L773.6,294.8 L774.6,295.3 L775.5,295.7 L776.4,296.3 L777.3,297.0 L778.1,297.7 L778.8,298.5 L779.5,299.4 L780.1,300.2 L780.7,301.2 L781.2,302.3 L781.7,303.3 L782.6,303.9 L783.4,304.4 L784.2,305.0 L785.0,305.7 L785.8,306.4 L786.5,307.2 L787.2,308.0 L787.9,308.8 L788.5,309.6 L789.1,310.5 L789.7,311.3 L790.4,312.1 L791.0,312.9 L791.6,313.7 L792.8,314.2 L793.9,314.7 L795.0,315.3 L796.1,315.8 L797.0,316.5 L797.8,317.1 L798.5,317.8 L799.2,318.8 L799.8,319.8 L800.2,320.8 L800.5,321.8 L800.7,322.9 L800.7,324.0 L800.6,325.1 L800.4,326.3 L800.0,327.5 L800.0,328.4 L800.2,329.4 L800.4,330.4 L800.5,331.4 L800.6,332.5 L800.6,333.6 L800.5,334.8 L800.3,335.9 L800.0,337.0 L799.6,338.1 L799.2,339.2 L798.6,340.2 L798.0,341.1 L797.4,341.9 L796.7,342.7 L796.0,343.5 L795.4,344.3 L795.1,345.3 L794.9,346.3 L794.5,347.3 L794.2,348.2 L793.7,349.2 L793.2,350.1 L792.6,350.9 L792.0,351.7 L791.3,352.5 L790.5,353.2 L789.7,353.8 L788.7,354.4 L787.7,354.9 L786.7,355.4 L785.6,355.8 L784.5,356.2 L783.8,357.0 L783.1,357.8 L782.3,358.6 L781.5,359.4 L780.6,360.0 L779.7,360.7 L778.8,361.2 L777.8,361.7 L776.7,362.1 L775.7,362.4 L774.6,362.6 L773.4,362.8 L772.3,362.9 L771.2,362.9 L770.1,362.9 L769.1,363.4 L768.1,363.9 L767.1,364.4 L766.1,364.7 L765.0,364.9 L764.1,365.1 L763.0,365.1 L762.0,365.0 L761.0,364.7 L759.9,364.4 L758.9,364.0 L757.9,363.5 L756.9,362.9 L756.0,362.2 L755.0,361.6 L754.1,361.1 L753.1,361.0 L752.2,360.8 L751.2,360.7 L750.2,360.4 L749.1,360.1 L748.1,359.6 L747.2,359.1 L746.3,358.4 L745.5,357.7 L744.7,356.8 L744.0,355.9 L743.5,355.0 L743.0,354.0 L742.6,353.0 L742.0,352.2 L741.3,351.6 L740.6,350.9 L739.9,350.1 L739.4,349.2 L738.9,348.3 L738.5,347.2 L738.3,346.1 L738.1,345.0 L738.2,343.9 L738.3,342.8 L738.5,341.8 L738.8,340.9 L739.5,339.8 L740.5,339.0 L741.7,338.3 L742.9,337.8 L744.0,337.2 L745.1,336.6 L745.9,335.8 L745.9,335.1 L745.4,334.6 L744.6,334.0 L743.8,333.3 L743.0,332.5 L742.3,331.7 L741.7,330.8 L741.1,329.8 L740.7,329.0 L740.3,328.1 L739.3,327.3 L738.3,326.4 L737.5,325.6 L736.7,324.4 L736.1,323.3 L735.7,322.2 L735.5,321.0 L735.5,320.0 L735.6,319.0 L735.8,318.0 L736.0,317.1 L736.3,316.2 L736.4,315.2 L736.2,314.1 L736.0,312.9 L736.0,311.8 L736.1,310.8 L736.3,309.7 L736.6,308.6 Z" fill="none" stroke="#d98a58" stroke-width="2" filter="url(#blur1)" opacity="0.6"/>
</g>
<path d="M737.1,307.5 L737.5,306.7 L738.0,305.9 L738.6,305.2 L739.3,304.5 L740.0,303.8 L740.7,303.1 L741.5,302.5 L741.9,301.4 L742.4,300.3 L742.9,299.2 L743.4,298.2 L744.0,297.3 L744.6,296.4 L745.2,295.5 L745.9,294.7 L746.6,293.9 L747.4,293.2 L748.3,292.6 L749.1,292.1 L750.1,291.8 L751.1,291.5 L752.1,291.3 L753.2,291.3 L754.0,291.2 L754.9,290.8 L755.8,290.5 L756.8,290.3 L757.9,290.1 L759.0,290.0 L760.1,289.9 L761.3,290.0 L762.4,290.2 L763.6,290.5 L764.7,290.9 L765.8,291.4 L766.8,291.9 L767.8,292.5 L768.6,293.1 L769.6,293.8 L770.6,294.1 L771.6,294.3 L772.6,294.5 L773.6,294.8 L774.6,295.3 L775.5,295.7 L776.4,296.3 L777.3,297.0 L778.1,297.7 L778.8,298.5 L779.5,299.4 L780.1,300.2 L780.7,301.2 L781.2,302.3 L781.7,303.3 L782.6,303.9 L783.4,304.4 L784.2,305.0 L785.0,305.7 L785.8,306.4 L786.5,307.2 L787.2,308.0 L787.9,308.8 L788.5,309.6 L789.1,310.5 L789.7,311.3 L790.4,312.1 L791.0,312.9 L791.6,313.7 L792.8,314.2 L793.9,314.7 L795.0,315.3 L796.1,315.8 L797.0,316.5 L797.8,317.1 L798.5,317.8 L799.2,318.8 L799.8,319.8 L800.2,320.8 L800.5,321.8 L800.7,322.9 L800.7,324.0 L800.6,325.1 L800.4,326.3 L800.0,327.5 L800.0,328.4 L800.2,329.4 L800.4,330.4 L800.5,331.4 L800.6,332.5 L800.6,333.6 L800.5,334.8 L800.3,335.9 L800.0,337.0 L799.6,338.1 L799.2,339.2 L798.6,340.2 L798.0,341.1 L797.4,341.9 L796.7,342.7 L796.0,343.5 L795.4,344.3 L795.1,345.3 L794.9,346.3 L794.5,347.3 L794.2,348.2 L793.7,349.2 L793.2,350.1 L792.6,350.9 L792.0,351.7 L791.3,352.5 L790.5,353.2 L789.7,353.8 L788.7,354.4 L787.7,354.9 L786.7,355.4 L785.6,355.8 L784.5,356.2 L783.8,357.0 L783.1,357.8 L782.3,358.6 L781.5,359.4 L780.6,360.0 L779.7,360.7 L778.8,361.2 L777.8,361.7 L776.7,362.1 L775.7,362.4 L774.6,362.6 L773.4,362.8 L772.3,362.9 L771.2,362.9 L770.1,362.9 L769.1,363.4 L768.1,363.9 L767.1,364.4 L766.1,364.7 L765.0,364.9 L764.1,365.1 L763.0,365.1 L762.0,365.0 L761.0,364.7 L759.9,364.4 L758.9,364.0 L757.9,363.5 L756.9,362.9 L756.0,362.2 L755.0,361.6 L754.1,361.1 L753.1,361.0 L752.2,360.8 L751.2,360.7 L750.2,360.4 L749.1,360.1 L748.1,359.6 L747.2,359.1 L746.3,358.4 L745.5,357.7 L744.7,356.8 L744.0,355.9 L743.5,355.0 L743.0,354.0 L742.6,353.0 L742.0,352.2 L741.3,351.6 L740.6,350.9 L739.9,350.1 L739.4,349.2 L738.9,348.3 L738.5,347.2 L738.3,346.1 L738.1,345.0 L738.2,343.9 L738.3,342.8 L738.5,341.8 L738.8,340.9 L739.5,339.8 L740.5,339.0 L741.7,338.3 L742.9,337.8 L744.0,337.2 L745.1,336.6 L745.9,335.8 L745.9,335.1 L745.4,334.6 L744.6,334.0 L743.8,333.3 L743.0,332.5 L742.3,331.7 L741.7,330.8 L741.1,329.8 L740.7,329.0 L740.3,328.1 L739.3,327.3 L738.3,326.4 L737.5,325.6 L736.7,324.4 L736.1,323.3 L735.7,322.2 L735.5,321.0 L735.5,320.0 L735.6,319.0 L735.8,318.0 L736.0,317.1 L736.3,316.2 L736.4,315.2 L736.2,314.1 L736.0,312.9 L736.0,311.8 L736.1,310.8 L736.3,309.7 L736.6,308.6 Z" fill="none" stroke="#d6895a" stroke-width="0.6" />
<rect x="690" y="384" width="140" height="16" fill="url(#fade)"/><rect x="690" y="400" width="140" height="10" fill="#fff"/>
<path d="M601.0,232.0 C603.0,228.1 606.8,222.4 612.0,218.5 C617.2,214.6 624.8,211.2 632.0,208.5 C639.2,205.8 647.8,204.0 655.0,202.5 C662.2,201.0 668.4,200.2 675.0,199.5 C681.6,198.8 688.6,198.5 694.8,198.5 C701.0,198.5 706.1,198.4 712.0,199.5 C717.9,200.6 724.3,202.6 730.0,205.0 C735.7,207.4 741.3,210.7 746.0,214.0 C750.7,217.3 754.3,220.7 758.0,225.0 C761.7,229.3 765.0,234.8 768.0,240.0 C771.0,245.2 773.7,251.3 776.0,256.0 C778.3,260.7 781.3,265.0 782.0,268.0 C782.7,271.0 781.3,272.6 780.0,274.0 C778.7,275.4 776.7,276.5 774.0,276.5 C771.3,276.5 766.7,275.8 764.0,274.0 C761.3,272.2 760.3,270.0 758.0,266.0 C755.7,262.0 752.7,254.7 750.0,250.0 C747.3,245.3 745.3,241.5 742.0,238.0 C738.7,234.5 735.3,231.6 730.0,229.0 C724.7,226.4 716.7,223.7 710.0,222.5 C703.3,221.3 696.7,221.8 690.0,222.0 C683.3,222.2 676.7,223.1 670.0,224.0 C663.3,224.9 655.7,226.3 650.0,227.5 C644.3,228.7 639.5,229.4 636.0,231.0 C632.5,232.6 630.6,234.7 629.0,237.0 C627.4,239.3 627.2,242.5 626.5,245.0 C625.8,247.5 626.1,249.8 625.0,252.0 C623.9,254.2 622.3,256.9 620.0,258.0 C617.7,259.1 613.8,259.5 611.0,258.5 C608.2,257.5 605.3,254.8 603.5,252.0 C601.7,249.2 600.4,245.3 600.0,242.0 C599.6,238.7 599.0,235.9 601.0,232.0 Z" fill="#922393" stroke="#000" stroke-width="1.3" />
<line x1="265" y1="57" x2="616" y2="229.5" stroke="#000" stroke-width="3.6"/>
<line x1="630" y1="113" x2="661.5" y2="213" stroke="#000" stroke-width="3.6"/>
<line x1="640.5" y1="241" x2="628.5" y2="357" stroke="#000" stroke-width="3.6"/>
</svg>
<div class="t" id="title" style="left:43px;top:4.9px">Limbic</div>
<div id="uline"></div>

<div class="t l" style="left:8.9px;top:86.2px">Structures:</div>
<div class="ul" style="left:9.3px;top:108px;width:129px;height:1.2px"></div>
<div class="b" style="left:10.6px;top:132.5px"></div>
<div class="t l" style="left:34.4px;top:125.6px">Limbic Lobe</div>
<div class="b" style="left:10.6px;top:162.3px"></div>
<div class="t l" style="left:34px;top:155.9px">Amygdala</div>
<div class="b" style="left:10.6px;top:192.7px"></div>
<div class="t l" style="left:34.1px;top:185.4px">Hippocampal Formation</div>
<div class="b" style="left:10.6px;top:222.7px"></div>
<div class="t l" style="left:35px;top:215.2px">Thalamus</div>
<div class="b" style="left:10.6px;top:252.5px"></div>
<div class="t l" style="left:34.1px;top:244.4px">Hypothalamus</div>

<div class="t l" style="left:9.2px;top:313.3px">Function:</div>
<div class="ul" style="left:9.3px;top:334.5px;width:109px;height:1.2px"></div>
<div class="b" style="left:10.6px;top:352.5px"></div>
<div class="t l" style="left:34.7px;top:343.3px">Learning &amp; Memory</div>
<div class="b" style="left:10.6px;top:381.3px"></div>
<div class="t l" style="left:34.7px;top:373.0px;letter-spacing:-0.28px">Emotions &amp; Behavior</div>
<div class="b" style="left:10.6px;top:411px"></div>
<div class="t l" style="left:34.5px;top:403.3px">Smell</div>

<div class="t p" style="left:562.7px;top:48.2px">Limbic Lobe</div>
<div class="t p" style="left:422px;top:77.5px">Cingulate &amp; Parahippocampal Gyrus</div>
<div class="t l" style="left:505px;top:363.3px;font-size:24.5px">Corpus Callosum</div>

</body></html>
